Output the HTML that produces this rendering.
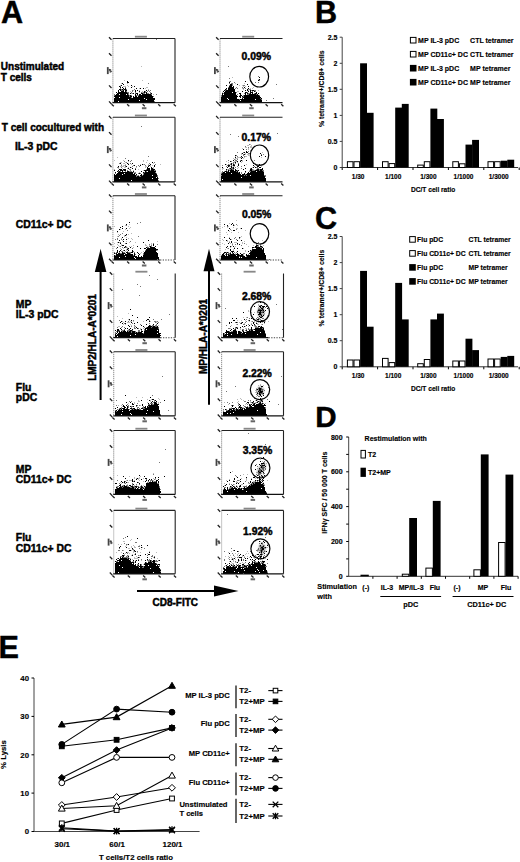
<!DOCTYPE html>
<html><head><meta charset="utf-8"><style>
html,body{margin:0;padding:0;background:#fff;}
body{width:520px;height:862px;overflow:hidden;}
svg{display:block;}
text{font-family:"Liberation Sans",sans-serif;font-weight:bold;fill:#000;stroke:#000;}
</style></head><body>
<svg width="520" height="862" viewBox="0 0 520 862">
<rect width="520" height="862" fill="#fff"/>
<text x="1.0" y="22.6" font-size="30.6" text-anchor="start" stroke-width="0.45" >A</text>
<text x="0.8" y="69.6" font-size="10" text-anchor="start" stroke-width="0.45" >Unstimulated</text>
<text x="0.8" y="81.0" font-size="10" text-anchor="start" stroke-width="0.45" >T cells</text>
<text x="1.8" y="130.5" font-size="10" text-anchor="start" stroke-width="0.45" >T cell cocultured with</text>
<text x="14.9" y="150.0" font-size="10.4" text-anchor="start" stroke-width="0.45" >IL-3 pDC</text>
<text x="15.8" y="227.8" font-size="10.4" text-anchor="start" stroke-width="0.45" >CD11c+ DC</text>
<text x="15.8" y="308.0" font-size="10.4" text-anchor="start" stroke-width="0.45" >MP</text>
<text x="15.8" y="317.8" font-size="10.4" text-anchor="start" stroke-width="0.45" >IL-3 pDC</text>
<text x="15.8" y="390.7" font-size="10.4" text-anchor="start" stroke-width="0.45" >Flu</text>
<text x="15.8" y="400.6" font-size="10.4" text-anchor="start" stroke-width="0.45" >pDC</text>
<text x="15.8" y="472.8" font-size="10.4" text-anchor="start" stroke-width="0.45" >MP</text>
<text x="15.8" y="482.6" font-size="10.4" text-anchor="start" stroke-width="0.45" >CD11c+ DC</text>
<text x="15.8" y="541.0" font-size="10.4" text-anchor="start" stroke-width="0.45" >Flu</text>
<text x="15.8" y="551.6" font-size="10.4" text-anchor="start" stroke-width="0.45" >CD11c+ DC</text>
<defs><filter id="bl" x="-5%" y="-5%" width="110%" height="110%"><feGaussianBlur stdDeviation="0.35"/></filter></defs>
<path fill="#bbb" filter="url(#bl)" d="M141 66h1v1h-1zM124 80h1v1h-1zM142 80h1v1h-1zM121 83h1v1h-1zM127 83h1v1h-1zM120 85h1v1h-1zM127 85h1v1h-1zM123 86h3v1h-3zM128 86h1v1h-1zM132 86h1v1h-1zM146 87h2v1h-2zM139 88h1v1h-1zM145 88h1v1h-1zM148 89h1v1h-1zM133 90h1v1h-1zM139 90h1v1h-1zM130 91h1v1h-1zM142 91h1v1h-1zM139 92h1v1h-1zM142 92h1v1h-1zM131 93h1v1h-1zM153 94h1v1h-1z"/>
<path fill="#777" filter="url(#bl)" d="M156 39h1v1h-1zM148 83h1v1h-1zM120 86h1v1h-1zM125 87h1v1h-1zM120 88h1v1h-1zM121 89h1v1h-1zM123 89h1v1h-1zM126 89h1v1h-1zM134 89h1v1h-1zM121 90h2v1h-2zM132 90h1v1h-1zM148 90h1v1h-1zM150 90h1v1h-1zM126 91h1v1h-1zM132 91h1v1h-1zM145 91h1v1h-1zM147 91h1v1h-1zM149 91h1v1h-1zM127 92h2v1h-2zM131 92h1v1h-1zM135 92h1v1h-1zM141 92h1v1h-1zM143 92h1v1h-1zM145 92h1v1h-1zM150 92h1v1h-1zM128 93h1v1h-1zM132 93h1v1h-1zM135 93h1v1h-1zM143 93h2v1h-2zM147 93h2v1h-2zM150 93h1v1h-1zM114 94h1v1h-1zM128 94h1v1h-1zM151 94h1v1h-1zM156 94h1v1h-1zM114 95h1v1h-1zM129 95h1v1h-1zM131 95h1v1h-1zM136 95h3v1h-3zM129 96h1v1h-1zM153 96h1v1h-1zM131 97h1v1h-1zM154 101h1v1h-1zM154 102h1v1h-1z"/>
<path fill="#000" filter="url(#bl)" d="M127 81h1v1h-1zM127 82h2v1h-2zM122 83h1v1h-1zM123 84h1v1h-1zM121 85h1v1h-1zM131 85h1v1h-1zM119 86h1v1h-1zM134 86h1v1h-1zM120 87h1v1h-1zM122 87h1v1h-1zM131 87h1v1h-1zM123 88h1v1h-1zM125 88h1v1h-1zM136 88h1v1h-1zM140 88h1v1h-1zM143 88h1v1h-1zM119 89h2v1h-2zM122 89h1v1h-1zM124 89h2v1h-2zM118 90h1v1h-1zM120 90h1v1h-1zM123 90h1v1h-1zM125 90h2v1h-2zM135 90h1v1h-1zM137 90h1v1h-1zM146 90h1v1h-1zM118 91h1v1h-1zM121 91h3v1h-3zM125 91h1v1h-1zM135 91h1v1h-1zM139 91h1v1h-1zM144 91h1v1h-1zM116 92h1v1h-1zM118 92h9v1h-9zM144 92h1v1h-1zM146 92h1v1h-1zM117 93h11v1h-11zM130 93h1v1h-1zM133 93h1v1h-1zM136 93h2v1h-2zM141 93h2v1h-2zM146 93h1v1h-1zM151 93h1v1h-1zM116 94h3v1h-3zM120 94h6v1h-6zM127 94h1v1h-1zM135 94h1v1h-1zM137 94h1v1h-1zM139 94h2v1h-2zM142 94h9v1h-9zM115 95h14v1h-14zM130 95h1v1h-1zM135 95h1v1h-1zM139 95h13v1h-13zM114 96h15v1h-15zM130 96h2v1h-2zM133 96h1v1h-1zM135 96h2v1h-2zM138 96h15v1h-15zM115 97h4v1h-4zM120 97h11v1h-11zM133 97h20v1h-20zM114 98h30v1h-30zM145 98h10v1h-10zM114 99h14v1h-14zM129 99h17v1h-17zM147 99h8v1h-8zM114 100h25v1h-25zM140 100h14v1h-14zM114 101h4v1h-4zM119 101h35v1h-35zM114 102h26v1h-26zM141 102h13v1h-13z"/>
<line x1="112.9" y1="38.5" x2="112.9" y2="102.7" stroke="#999" stroke-width="1.1" stroke-dasharray="1.2 0.8"/>
<line x1="112.4" y1="102.7" x2="175.0" y2="102.7" stroke="#111" stroke-width="1.2" />
<line x1="112.9" y1="38.5" x2="175.0" y2="38.5" stroke="#222" stroke-width="1.1" />
<line x1="175.0" y1="38.5" x2="175.0" y2="102.7" stroke="#222" stroke-width="1.1" />
<rect x="134.9" y="35.8" width="12" height="1.8" fill="#888"/>
<path d="M109.0 37.2L111.5 39.8M109.0 53.2L111.5 55.8M109.0 69.3L111.5 71.9M109.0 85.4L111.5 88.0M109.0 101.4L111.5 104.0M111.6 104.3L113.8 106.3M127.1 104.3L129.3 106.3M142.6 104.3L144.8 106.3M158.2 104.3L160.4 106.3M173.7 104.3L175.9 106.3" stroke="#222" stroke-width="1.3" fill="none"/>
<rect x="106.9" y="67.1" width="1.8" height="7" fill="#444"/>
<rect x="109.6" y="69.1" width="1.5" height="3.5" fill="#555"/>
<rect x="141.9" y="107.2" width="4.5" height="2" fill="#666"/>
<path fill="#bbb" filter="url(#bl)" d="M232 77h1v1h-1zM258 79h1v1h-1zM229 81h1v1h-1zM235 83h1v1h-1zM244 83h1v1h-1zM239 85h1v1h-1zM242 85h1v1h-1zM243 86h1v1h-1zM245 86h1v1h-1zM253 87h1v1h-1zM257 87h1v1h-1zM242 88h1v1h-1zM250 88h1v1h-1zM252 88h1v1h-1zM243 89h1v1h-1zM248 89h1v1h-1zM248 90h1v1h-1zM258 90h1v1h-1zM237 91h2v1h-2zM222 92h1v1h-1zM239 95h1v1h-1z"/>
<path fill="#777" filter="url(#bl)" d="M228 66h1v1h-1zM258 76h1v1h-1zM229 78h1v1h-1zM259 80h1v1h-1zM230 81h1v1h-1zM234 82h1v1h-1zM255 82h1v1h-1zM258 82h1v1h-1zM229 83h1v1h-1zM231 83h2v1h-2zM232 84h1v1h-1zM276 84h1v1h-1zM229 85h1v1h-1zM232 85h1v1h-1zM243 85h2v1h-2zM228 87h1v1h-1zM236 87h1v1h-1zM242 87h1v1h-1zM235 88h1v1h-1zM237 88h1v1h-1zM243 88h1v1h-1zM245 88h1v1h-1zM226 89h1v1h-1zM249 89h2v1h-2zM225 90h1v1h-1zM251 90h1v1h-1zM254 90h2v1h-2zM252 91h1v1h-1zM255 91h1v1h-1zM236 92h1v1h-1zM247 92h1v1h-1zM223 93h1v1h-1zM244 93h1v1h-1zM248 93h2v1h-2zM254 93h1v1h-1zM237 94h1v1h-1zM247 94h2v1h-2zM256 94h1v1h-1zM221 95h1v1h-1zM243 95h1v1h-1zM259 95h1v1h-1zM221 96h1v1h-1zM243 96h1v1h-1zM242 97h1v1h-1zM260 98h1v1h-1zM273 98h1v1h-1zM239 99h1v1h-1zM261 99h1v1h-1zM266 100h1v1h-1z"/>
<path fill="#000" filter="url(#bl)" d="M259 77h1v1h-1zM259 79h1v1h-1zM258 80h1v1h-1zM245 81h1v1h-1zM229 82h1v1h-1zM230 84h2v1h-2zM237 84h1v1h-1zM247 84h1v1h-1zM226 85h1v1h-1zM230 85h2v1h-2zM229 86h3v1h-3zM233 86h1v1h-1zM248 86h1v1h-1zM229 87h5v1h-5zM244 87h1v1h-1zM226 88h1v1h-1zM228 88h6v1h-6zM248 88h1v1h-1zM225 89h1v1h-1zM228 89h7v1h-7zM247 89h1v1h-1zM224 90h1v1h-1zM226 90h9v1h-9zM245 90h1v1h-1zM247 90h1v1h-1zM250 90h1v1h-1zM252 90h2v1h-2zM223 91h1v1h-1zM225 91h10v1h-10zM242 91h1v1h-1zM248 91h1v1h-1zM250 91h1v1h-1zM254 91h1v1h-1zM224 92h8v1h-8zM233 92h3v1h-3zM245 92h2v1h-2zM250 92h3v1h-3zM256 92h1v1h-1zM222 93h1v1h-1zM224 93h12v1h-12zM239 93h2v1h-2zM245 93h1v1h-1zM247 93h1v1h-1zM250 93h1v1h-1zM252 93h1v1h-1zM255 93h2v1h-2zM258 93h1v1h-1zM222 94h1v1h-1zM224 94h12v1h-12zM240 94h1v1h-1zM245 94h1v1h-1zM249 94h7v1h-7zM257 94h1v1h-1zM222 95h15v1h-15zM240 95h2v1h-2zM244 95h15v1h-15zM222 96h16v1h-16zM239 96h2v1h-2zM242 96h1v1h-1zM244 96h16v1h-16zM221 97h16v1h-16zM240 97h1v1h-1zM243 97h18v1h-18zM221 98h6v1h-6zM228 98h9v1h-9zM242 98h1v1h-1zM244 98h16v1h-16zM261 98h1v1h-1zM221 99h7v1h-7zM229 99h10v1h-10zM240 99h15v1h-15zM256 99h5v1h-5zM221 100h19v1h-19zM241 100h21v1h-21zM221 101h41v1h-41zM221 102h41v1h-41z"/>
<line x1="220.0" y1="38.5" x2="220.0" y2="102.7" stroke="#999" stroke-width="1.1" stroke-dasharray="1.2 0.8"/>
<line x1="219.5" y1="102.7" x2="282.5" y2="102.7" stroke="#111" stroke-width="1.2" />
<line x1="220.0" y1="38.5" x2="282.5" y2="38.5" stroke="#222" stroke-width="1.1" />
<rect x="242.2" y="35.8" width="12" height="1.8" fill="#888"/>
<path d="M216.1 37.2L218.6 39.8M216.1 53.2L218.6 55.8M216.1 69.3L218.6 71.9M216.1 85.4L218.6 88.0M216.1 101.4L218.6 104.0M218.7 104.3L220.9 106.3M234.3 104.3L236.5 106.3M249.9 104.3L252.2 106.3M265.6 104.3L267.8 106.3M281.2 104.3L283.4 106.3" stroke="#222" stroke-width="1.3" fill="none"/>
<rect x="214.0" y="67.1" width="1.8" height="7" fill="#444"/>
<rect x="216.7" y="69.1" width="1.5" height="3.5" fill="#555"/>
<rect x="249.2" y="107.2" width="4.5" height="2" fill="#666"/>
<path fill="#bbb" filter="url(#bl)" d="M117 157h1v1h-1zM114 160h1v1h-1zM123 160h1v1h-1zM143 160h1v1h-1zM147 160h1v1h-1zM128 161h1v1h-1zM143 161h1v1h-1zM120 162h2v1h-2zM125 162h1v1h-1zM146 162h1v1h-1zM123 163h2v1h-2zM128 163h1v1h-1zM153 163h1v1h-1zM121 164h1v1h-1zM125 164h1v1h-1zM131 164h1v1h-1zM140 164h1v1h-1zM143 164h1v1h-1zM148 164h1v1h-1zM160 164h1v1h-1zM123 165h2v1h-2zM150 165h1v1h-1zM152 165h1v1h-1zM120 166h4v1h-4zM145 166h2v1h-2zM150 166h1v1h-1zM124 167h2v1h-2zM128 167h1v1h-1zM131 167h1v1h-1zM136 167h1v1h-1zM145 167h1v1h-1zM153 167h1v1h-1zM118 168h1v1h-1zM122 168h1v1h-1zM127 168h1v1h-1zM153 168h1v1h-1zM114 169h1v1h-1zM138 169h1v1h-1zM133 170h1v1h-1zM143 170h1v1h-1zM134 172h1v1h-1zM139 172h1v1h-1zM137 175h1v1h-1z"/>
<path fill="#777" filter="url(#bl)" d="M141 126h1v1h-1zM148 156h1v1h-1zM125 158h1v1h-1zM131 160h1v1h-1zM124 161h1v1h-1zM130 161h1v1h-1zM126 162h1v1h-1zM154 162h1v1h-1zM119 163h1v1h-1zM130 163h1v1h-1zM149 163h1v1h-1zM144 164h1v1h-1zM155 164h1v1h-1zM121 165h1v1h-1zM125 165h1v1h-1zM133 165h1v1h-1zM138 165h1v1h-1zM145 165h1v1h-1zM148 165h1v1h-1zM125 166h1v1h-1zM132 166h1v1h-1zM136 166h1v1h-1zM139 166h1v1h-1zM117 167h2v1h-2zM121 167h1v1h-1zM135 168h1v1h-1zM129 169h2v1h-2zM146 169h1v1h-1zM123 170h1v1h-1zM127 170h1v1h-1zM130 170h1v1h-1zM150 170h1v1h-1zM154 170h2v1h-2zM118 171h1v1h-1zM120 171h1v1h-1zM125 171h1v1h-1zM129 171h3v1h-3zM146 171h1v1h-1zM133 172h1v1h-1zM135 172h1v1h-1zM144 172h1v1h-1zM155 172h1v1h-1zM115 173h1v1h-1zM135 173h1v1h-1zM138 173h1v1h-1zM140 173h1v1h-1zM143 173h1v1h-1zM156 173h1v1h-1zM143 174h1v1h-1zM136 175h1v1h-1zM138 175h1v1h-1zM142 175h1v1h-1zM157 175h1v1h-1zM136 176h1v1h-1zM139 176h2v1h-2zM157 176h1v1h-1zM158 178h1v1h-1zM158 180h1v1h-1z"/>
<path fill="#000" filter="url(#bl)" d="M128 160h1v1h-1zM152 162h1v1h-1zM120 163h1v1h-1zM127 163h1v1h-1zM132 163h1v1h-1zM128 164h1v1h-1zM142 164h1v1h-1zM150 164h1v1h-1zM134 165h1v1h-1zM140 165h1v1h-1zM149 165h1v1h-1zM154 165h1v1h-1zM118 166h1v1h-1zM126 166h1v1h-1zM148 166h1v1h-1zM154 166h1v1h-1zM130 167h1v1h-1zM147 167h1v1h-1zM151 167h1v1h-1zM128 168h1v1h-1zM132 168h1v1h-1zM147 168h3v1h-3zM151 168h2v1h-2zM119 169h3v1h-3zM123 169h3v1h-3zM135 169h1v1h-1zM147 169h3v1h-3zM151 169h4v1h-4zM114 170h1v1h-1zM118 170h1v1h-1zM120 170h3v1h-3zM124 170h2v1h-2zM144 170h6v1h-6zM151 170h3v1h-3zM117 171h1v1h-1zM119 171h1v1h-1zM122 171h1v1h-1zM127 171h2v1h-2zM133 171h1v1h-1zM141 171h1v1h-1zM145 171h1v1h-1zM148 171h8v1h-8zM115 172h1v1h-1zM118 172h15v1h-15zM143 172h1v1h-1zM145 172h10v1h-10zM117 173h7v1h-7zM125 173h8v1h-8zM134 173h1v1h-1zM139 173h1v1h-1zM144 173h12v1h-12zM114 174h1v1h-1zM116 174h6v1h-6zM123 174h12v1h-12zM136 174h1v1h-1zM141 174h1v1h-1zM144 174h13v1h-13zM114 175h22v1h-22zM140 175h2v1h-2zM143 175h9v1h-9zM153 175h4v1h-4zM114 176h22v1h-22zM137 176h2v1h-2zM141 176h16v1h-16zM114 177h42v1h-42zM157 177h1v1h-1zM114 178h5v1h-5zM120 178h32v1h-32zM153 178h5v1h-5zM114 179h44v1h-44zM114 180h17v1h-17zM132 180h26v1h-26zM114 181h45v1h-45z"/>
<line x1="112.9" y1="117.3" x2="112.9" y2="181.9" stroke="#999" stroke-width="1.1" stroke-dasharray="1.2 0.8"/>
<line x1="112.4" y1="181.9" x2="175.0" y2="181.9" stroke="#111" stroke-width="1.2" />
<line x1="112.9" y1="117.3" x2="175.0" y2="117.3" stroke="#222" stroke-width="1.1" />
<line x1="175.0" y1="117.3" x2="175.0" y2="181.9" stroke="#222" stroke-width="1.1" />
<rect x="134.9" y="114.6" width="12" height="1.8" fill="#888"/>
<path d="M109.0 116.0L111.5 118.6M109.0 132.1L111.5 134.8M109.0 148.3L111.5 150.9M109.0 164.4L111.5 167.1M109.0 180.6L111.5 183.2M111.6 183.5L113.8 185.5M127.1 183.5L129.3 185.5M142.6 183.5L144.8 185.5M158.2 183.5L160.4 185.5M173.7 183.5L175.9 185.5" stroke="#222" stroke-width="1.3" fill="none"/>
<rect x="106.9" y="146.1" width="1.8" height="7" fill="#444"/>
<rect x="109.6" y="148.1" width="1.5" height="3.5" fill="#555"/>
<rect x="141.9" y="186.4" width="4.5" height="2" fill="#666"/>
<path fill="#bbb" filter="url(#bl)" d="M250 144h1v1h-1zM247 145h2v1h-2zM251 145h1v1h-1zM250 146h2v1h-2zM245 147h2v1h-2zM250 147h2v1h-2zM242 148h1v1h-1zM248 148h1v1h-1zM248 149h1v1h-1zM250 150h1v1h-1zM262 152h1v1h-1zM241 153h1v1h-1zM245 153h1v1h-1zM241 154h1v1h-1zM245 154h1v1h-1zM247 154h2v1h-2zM248 155h1v1h-1zM235 156h1v1h-1zM245 156h2v1h-2zM237 157h3v1h-3zM241 157h1v1h-1zM244 157h1v1h-1zM261 157h1v1h-1zM233 158h1v1h-1zM235 158h3v1h-3zM243 158h1v1h-1zM235 159h1v1h-1zM242 160h1v1h-1zM226 161h1v1h-1zM234 161h3v1h-3zM242 161h1v1h-1zM228 162h1v1h-1zM234 162h1v1h-1zM237 162h1v1h-1zM241 162h1v1h-1zM230 163h1v1h-1zM232 163h1v1h-1zM226 164h1v1h-1zM229 164h1v1h-1zM246 164h1v1h-1zM232 165h1v1h-1zM256 165h1v1h-1zM230 166h1v1h-1zM233 166h2v1h-2zM261 166h1v1h-1zM238 167h1v1h-1zM252 167h1v1h-1zM222 168h2v1h-2zM234 168h1v1h-1zM237 168h1v1h-1zM222 169h1v1h-1zM227 169h1v1h-1zM229 169h1v1h-1zM253 169h1v1h-1zM249 170h1v1h-1zM221 172h1v1h-1z"/>
<path fill="#777" filter="url(#bl)" d="M277 133h1v1h-1zM230 134h1v1h-1zM238 136h1v1h-1zM249 144h1v1h-1zM245 146h1v1h-1zM248 147h1v1h-1zM246 149h1v1h-1zM248 151h1v1h-1zM237 152h1v1h-1zM243 152h1v1h-1zM248 153h2v1h-2zM243 154h1v1h-1zM261 154h1v1h-1zM263 154h1v1h-1zM236 155h1v1h-1zM243 155h1v1h-1zM237 156h1v1h-1zM244 156h1v1h-1zM240 157h1v1h-1zM234 159h1v1h-1zM237 159h1v1h-1zM228 160h1v1h-1zM235 160h2v1h-2zM240 160h1v1h-1zM251 160h1v1h-1zM254 160h1v1h-1zM231 161h1v1h-1zM233 162h1v1h-1zM233 163h1v1h-1zM235 163h1v1h-1zM238 163h1v1h-1zM228 164h1v1h-1zM230 164h1v1h-1zM234 164h1v1h-1zM222 165h1v1h-1zM227 165h1v1h-1zM231 165h1v1h-1zM226 166h1v1h-1zM229 166h1v1h-1zM237 166h1v1h-1zM241 166h1v1h-1zM254 166h1v1h-1zM232 167h1v1h-1zM235 167h1v1h-1zM256 167h2v1h-2zM229 168h1v1h-1zM231 168h2v1h-2zM241 168h1v1h-1zM250 168h1v1h-1zM257 168h2v1h-2zM228 169h1v1h-1zM230 169h1v1h-1zM232 169h2v1h-2zM252 169h1v1h-1zM256 169h1v1h-1zM259 169h1v1h-1zM226 170h1v1h-1zM229 170h1v1h-1zM237 170h1v1h-1zM252 170h3v1h-3zM259 170h1v1h-1zM262 170h2v1h-2zM222 171h1v1h-1zM224 171h1v1h-1zM227 171h1v1h-1zM236 171h1v1h-1zM249 171h2v1h-2zM263 171h1v1h-1zM222 172h1v1h-1zM238 172h1v1h-1zM241 172h1v1h-1zM245 172h1v1h-1zM221 173h1v1h-1zM241 173h1v1h-1zM245 174h1v1h-1zM221 175h1v1h-1zM244 175h1v1h-1zM246 175h1v1h-1zM264 175h2v1h-2zM265 176h1v1h-1z"/>
<path fill="#000" filter="url(#bl)" d="M243 149h1v1h-1zM246 151h1v1h-1zM244 152h1v1h-1zM246 152h2v1h-2zM242 153h1v1h-1zM260 153h1v1h-1zM244 154h1v1h-1zM235 155h1v1h-1zM261 155h1v1h-1zM241 156h1v1h-1zM259 156h1v1h-1zM265 156h1v1h-1zM235 157h1v1h-1zM242 157h1v1h-1zM241 158h1v1h-1zM233 160h1v1h-1zM241 160h1v1h-1zM246 160h1v1h-1zM230 161h1v1h-1zM237 161h1v1h-1zM240 161h1v1h-1zM235 162h1v1h-1zM231 163h1v1h-1zM253 163h1v1h-1zM225 164h1v1h-1zM231 164h1v1h-1zM233 164h1v1h-1zM238 164h1v1h-1zM259 164h1v1h-1zM228 165h2v1h-2zM233 165h2v1h-2zM238 165h1v1h-1zM244 165h1v1h-1zM253 165h1v1h-1zM228 166h1v1h-1zM231 166h1v1h-1zM257 166h2v1h-2zM222 167h1v1h-1zM227 167h1v1h-1zM231 167h1v1h-1zM233 167h1v1h-1zM253 167h1v1h-1zM255 167h1v1h-1zM259 167h2v1h-2zM230 168h1v1h-1zM233 168h1v1h-1zM245 168h1v1h-1zM251 168h1v1h-1zM262 168h1v1h-1zM226 169h1v1h-1zM231 169h1v1h-1zM235 169h1v1h-1zM243 169h1v1h-1zM250 169h2v1h-2zM257 169h2v1h-2zM260 169h3v1h-3zM228 170h1v1h-1zM230 170h4v1h-4zM235 170h2v1h-2zM238 170h1v1h-1zM250 170h2v1h-2zM255 170h4v1h-4zM260 170h2v1h-2zM225 171h2v1h-2zM228 171h1v1h-1zM230 171h6v1h-6zM237 171h1v1h-1zM245 171h1v1h-1zM251 171h5v1h-5zM257 171h6v1h-6zM223 172h2v1h-2zM226 172h12v1h-12zM239 172h1v1h-1zM248 172h1v1h-1zM250 172h14v1h-14zM222 173h9v1h-9zM232 173h8v1h-8zM244 173h1v1h-1zM247 173h17v1h-17zM221 174h20v1h-20zM242 174h3v1h-3zM246 174h18v1h-18zM222 175h22v1h-22zM245 175h1v1h-1zM247 175h3v1h-3zM251 175h13v1h-13zM221 176h44v1h-44zM221 177h20v1h-20zM242 177h23v1h-23zM221 178h45v1h-45zM221 179h1v1h-1zM223 179h43v1h-43zM221 180h45v1h-45zM221 181h45v1h-45z"/>
<line x1="220.0" y1="117.3" x2="220.0" y2="181.9" stroke="#999" stroke-width="1.1" stroke-dasharray="1.2 0.8"/>
<line x1="219.5" y1="181.9" x2="282.5" y2="181.9" stroke="#111" stroke-width="1.2" />
<line x1="220.0" y1="117.3" x2="282.5" y2="117.3" stroke="#222" stroke-width="1.1" />
<rect x="242.2" y="114.6" width="12" height="1.8" fill="#888"/>
<path d="M216.1 116.0L218.6 118.6M216.1 132.1L218.6 134.8M216.1 148.3L218.6 150.9M216.1 164.4L218.6 167.1M216.1 180.6L218.6 183.2M218.7 183.5L220.9 185.5M234.3 183.5L236.5 185.5M249.9 183.5L252.2 185.5M265.6 183.5L267.8 185.5M281.2 183.5L283.4 185.5" stroke="#222" stroke-width="1.3" fill="none"/>
<rect x="214.0" y="146.1" width="1.8" height="7" fill="#444"/>
<rect x="216.7" y="148.1" width="1.5" height="3.5" fill="#555"/>
<rect x="249.2" y="186.4" width="4.5" height="2" fill="#666"/>
<path fill="#bbb" filter="url(#bl)" d="M129 224h1v1h-1zM125 225h1v1h-1zM114 226h1v1h-1zM128 226h1v1h-1zM130 227h1v1h-1zM129 228h1v1h-1zM120 229h1v1h-1zM125 229h1v1h-1zM123 231h1v1h-1zM117 232h1v1h-1zM131 233h1v1h-1zM118 234h1v1h-1zM128 234h1v1h-1zM124 235h1v1h-1zM126 235h1v1h-1zM117 236h1v1h-1zM124 236h1v1h-1zM126 237h1v1h-1zM121 238h1v1h-1zM128 238h1v1h-1zM131 238h1v1h-1zM132 239h1v1h-1zM122 240h1v1h-1zM126 241h1v1h-1zM157 241h1v1h-1zM117 242h1v1h-1zM119 242h1v1h-1zM129 242h1v1h-1zM135 242h1v1h-1zM114 243h1v1h-1zM151 243h1v1h-1zM117 244h1v1h-1zM121 244h1v1h-1zM145 244h1v1h-1zM151 244h1v1h-1zM118 245h1v1h-1zM121 245h1v1h-1zM133 245h1v1h-1zM145 245h2v1h-2zM149 245h1v1h-1zM114 246h1v1h-1zM119 246h1v1h-1zM126 246h1v1h-1zM129 246h1v1h-1zM131 246h1v1h-1zM147 246h1v1h-1zM127 247h1v1h-1zM133 247h1v1h-1zM120 248h1v1h-1zM123 248h1v1h-1zM126 249h1v1h-1zM128 249h1v1h-1zM126 250h1v1h-1zM157 250h1v1h-1zM125 251h1v1h-1zM143 251h1v1h-1zM141 252h1v1h-1zM140 253h1v1h-1z"/>
<path fill="#777" filter="url(#bl)" d="M140 222h1v1h-1zM137 223h1v1h-1zM126 225h1v1h-1zM127 230h1v1h-1zM122 233h1v1h-1zM120 234h1v1h-1zM119 235h1v1h-1zM118 236h1v1h-1zM138 236h1v1h-1zM117 238h1v1h-1zM115 239h1v1h-1zM117 239h1v1h-1zM121 239h1v1h-1zM130 241h1v1h-1zM120 242h1v1h-1zM125 243h1v1h-1zM153 243h1v1h-1zM149 244h1v1h-1zM157 244h1v1h-1zM151 245h1v1h-1zM120 246h1v1h-1zM149 246h1v1h-1zM151 246h1v1h-1zM122 247h1v1h-1zM125 247h2v1h-2zM147 247h2v1h-2zM116 248h1v1h-1zM127 248h1v1h-1zM132 248h1v1h-1zM121 249h1v1h-1zM123 250h1v1h-1zM145 250h1v1h-1zM156 250h1v1h-1zM121 251h2v1h-2zM127 251h1v1h-1zM133 251h1v1h-1zM114 252h1v1h-1zM116 252h1v1h-1zM119 252h1v1h-1zM123 252h2v1h-2zM128 252h3v1h-3zM134 252h1v1h-1zM115 253h1v1h-1zM120 253h2v1h-2zM125 253h1v1h-1zM130 253h1v1h-1zM143 253h1v1h-1zM135 254h1v1h-1zM143 254h1v1h-1zM115 255h1v1h-1zM133 255h1v1h-1z"/>
<path fill="#000" filter="url(#bl)" d="M129 222h1v1h-1zM126 224h1v1h-1zM122 226h1v1h-1zM120 227h1v1h-1zM122 228h1v1h-1zM126 228h1v1h-1zM119 229h1v1h-1zM117 231h1v1h-1zM126 234h1v1h-1zM125 235h1v1h-1zM122 237h1v1h-1zM123 239h1v1h-1zM126 239h1v1h-1zM119 240h1v1h-1zM148 240h1v1h-1zM123 241h1v1h-1zM118 242h1v1h-1zM143 242h1v1h-1zM120 243h1v1h-1zM126 243h1v1h-1zM153 244h1v1h-1zM122 245h2v1h-2zM153 245h1v1h-1zM125 246h1v1h-1zM137 246h1v1h-1zM150 246h1v1h-1zM155 246h1v1h-1zM117 247h1v1h-1zM124 247h1v1h-1zM130 247h1v1h-1zM146 247h1v1h-1zM150 247h5v1h-5zM128 248h1v1h-1zM140 248h1v1h-1zM144 248h2v1h-2zM147 248h9v1h-9zM127 249h1v1h-1zM146 249h12v1h-12zM117 250h1v1h-1zM120 250h1v1h-1zM124 250h1v1h-1zM128 250h1v1h-1zM132 250h1v1h-1zM146 250h10v1h-10zM117 251h1v1h-1zM119 251h1v1h-1zM132 251h1v1h-1zM145 251h11v1h-11zM117 252h1v1h-1zM122 252h1v1h-1zM126 252h2v1h-2zM131 252h2v1h-2zM137 252h1v1h-1zM144 252h13v1h-13zM114 253h1v1h-1zM116 253h1v1h-1zM118 253h2v1h-2zM122 253h3v1h-3zM127 253h3v1h-3zM134 253h1v1h-1zM138 253h1v1h-1zM144 253h14v1h-14zM116 254h8v1h-8zM125 254h8v1h-8zM134 254h1v1h-1zM139 254h1v1h-1zM144 254h14v1h-14zM114 255h1v1h-1zM116 255h17v1h-17zM134 255h1v1h-1zM138 255h1v1h-1zM143 255h15v1h-15zM114 256h11v1h-11zM126 256h11v1h-11zM138 256h1v1h-1zM141 256h1v1h-1zM143 256h15v1h-15zM114 257h5v1h-5zM120 257h14v1h-14zM135 257h24v1h-24zM114 258h21v1h-21zM136 258h23v1h-23zM114 259h43v1h-43zM158 259h1v1h-1z"/>
<line x1="112.9" y1="195.8" x2="112.9" y2="260.0" stroke="#999" stroke-width="1.1" stroke-dasharray="1.2 0.8"/>
<line x1="112.4" y1="260.0" x2="160.1" y2="260.0" stroke="#111" stroke-width="1.2" />
<line x1="160.1" y1="260.0" x2="175.0" y2="260.0" stroke="#444" stroke-width="1.1" stroke-dasharray="1.3 1.3"/>
<line x1="112.9" y1="195.8" x2="175.0" y2="195.8" stroke="#222" stroke-width="1.1" />
<line x1="175.0" y1="195.8" x2="175.0" y2="260.0" stroke="#222" stroke-width="1.1" />
<rect x="134.9" y="193.1" width="12" height="1.8" fill="#888"/>
<path d="M109.0 194.5L111.5 197.1M109.0 210.6L111.5 213.2M109.0 226.6L111.5 229.2M109.0 242.6L111.5 245.2M109.0 258.7L111.5 261.3M111.6 261.6L113.8 263.6M127.1 261.6L129.3 263.6M142.6 261.6L144.8 263.6M158.2 261.6L160.4 263.6M173.7 261.6L175.9 263.6" stroke="#222" stroke-width="1.3" fill="none"/>
<rect x="106.9" y="224.4" width="1.8" height="7" fill="#444"/>
<rect x="109.6" y="226.4" width="1.5" height="3.5" fill="#555"/>
<rect x="141.9" y="264.5" width="4.5" height="2" fill="#666"/>
<path fill="#bbb" filter="url(#bl)" d="M236 220h1v1h-1zM229 223h1v1h-1zM234 225h1v1h-1zM237 225h1v1h-1zM224 226h1v1h-1zM228 226h1v1h-1zM222 227h1v1h-1zM227 227h1v1h-1zM233 227h1v1h-1zM236 228h2v1h-2zM240 228h1v1h-1zM231 230h1v1h-1zM245 230h1v1h-1zM229 231h1v1h-1zM226 232h1v1h-1zM231 232h1v1h-1zM238 232h1v1h-1zM227 234h1v1h-1zM241 236h1v1h-1zM229 237h1v1h-1zM240 237h1v1h-1zM222 239h1v1h-1zM231 239h1v1h-1zM223 240h1v1h-1zM227 240h1v1h-1zM262 240h1v1h-1zM227 241h1v1h-1zM229 241h1v1h-1zM244 241h1v1h-1zM234 242h3v1h-3zM242 242h1v1h-1zM253 242h1v1h-1zM222 243h1v1h-1zM230 243h1v1h-1zM232 243h1v1h-1zM242 243h1v1h-1zM261 243h1v1h-1zM224 244h1v1h-1zM246 244h1v1h-1zM232 245h1v1h-1zM253 245h1v1h-1zM263 245h1v1h-1zM231 246h1v1h-1zM235 246h1v1h-1zM248 246h1v1h-1zM262 246h1v1h-1zM230 247h1v1h-1zM234 247h1v1h-1zM227 248h1v1h-1zM243 248h1v1h-1zM225 249h1v1h-1zM233 249h1v1h-1zM233 250h1v1h-1zM245 250h1v1h-1zM245 251h1v1h-1zM235 253h1v1h-1zM239 254h1v1h-1zM243 254h1v1h-1z"/>
<path fill="#777" filter="url(#bl)" d="M233 224h1v1h-1zM236 224h1v1h-1zM227 226h1v1h-1zM230 229h1v1h-1zM236 229h1v1h-1zM235 237h1v1h-1zM234 238h1v1h-1zM239 238h1v1h-1zM236 239h1v1h-1zM229 242h1v1h-1zM258 242h1v1h-1zM244 243h1v1h-1zM232 244h1v1h-1zM235 244h1v1h-1zM237 244h1v1h-1zM256 244h1v1h-1zM260 244h1v1h-1zM241 245h1v1h-1zM258 245h1v1h-1zM260 245h1v1h-1zM257 246h2v1h-2zM254 247h1v1h-1zM260 247h2v1h-2zM228 248h1v1h-1zM252 248h1v1h-1zM262 249h1v1h-1zM251 250h1v1h-1zM250 251h1v1h-1zM226 252h1v1h-1zM228 252h1v1h-1zM230 252h1v1h-1zM234 252h1v1h-1zM236 252h1v1h-1zM224 253h1v1h-1zM228 253h2v1h-2zM232 253h1v1h-1zM243 253h2v1h-2zM225 254h1v1h-1zM227 254h1v1h-1zM229 254h1v1h-1zM235 254h1v1h-1zM248 254h1v1h-1zM221 255h1v1h-1zM243 255h1v1h-1zM239 256h1v1h-1zM246 256h1v1h-1zM269 259h1v1h-1z"/>
<path fill="#000" filter="url(#bl)" d="M232 223h1v1h-1zM224 224h1v1h-1zM231 224h1v1h-1zM227 225h1v1h-1zM233 225h1v1h-1zM229 228h1v1h-1zM241 228h1v1h-1zM228 230h1v1h-1zM233 230h2v1h-2zM224 237h1v1h-1zM239 237h1v1h-1zM229 238h1v1h-1zM230 239h1v1h-1zM226 240h1v1h-1zM237 240h1v1h-1zM241 240h1v1h-1zM231 241h1v1h-1zM231 242h1v1h-1zM254 242h1v1h-1zM228 243h1v1h-1zM237 243h1v1h-1zM256 243h1v1h-1zM239 244h1v1h-1zM256 245h2v1h-2zM227 246h1v1h-1zM230 246h1v1h-1zM233 246h1v1h-1zM255 246h2v1h-2zM260 246h2v1h-2zM226 247h1v1h-1zM252 247h2v1h-2zM255 247h5v1h-5zM262 247h1v1h-1zM234 248h1v1h-1zM237 248h1v1h-1zM242 248h1v1h-1zM256 248h6v1h-6zM263 248h1v1h-1zM230 249h1v1h-1zM252 249h10v1h-10zM263 249h1v1h-1zM230 250h1v1h-1zM250 250h1v1h-1zM252 250h12v1h-12zM231 251h3v1h-3zM237 251h1v1h-1zM248 251h1v1h-1zM251 251h13v1h-13zM224 252h2v1h-2zM227 252h1v1h-1zM232 252h1v1h-1zM250 252h14v1h-14zM223 253h1v1h-1zM226 253h1v1h-1zM230 253h1v1h-1zM233 253h1v1h-1zM237 253h1v1h-1zM240 253h1v1h-1zM249 253h16v1h-16zM222 254h2v1h-2zM226 254h1v1h-1zM228 254h1v1h-1zM230 254h5v1h-5zM236 254h3v1h-3zM241 254h2v1h-2zM246 254h1v1h-1zM250 254h15v1h-15zM222 255h3v1h-3zM226 255h1v1h-1zM228 255h8v1h-8zM237 255h6v1h-6zM246 255h20v1h-20zM221 256h18v1h-18zM240 256h5v1h-5zM247 256h19v1h-19zM221 257h18v1h-18zM240 257h1v1h-1zM242 257h14v1h-14zM257 257h9v1h-9zM221 258h45v1h-45zM221 259h45v1h-45z"/>
<line x1="220.0" y1="195.8" x2="220.0" y2="260.0" stroke="#999" stroke-width="1.1" stroke-dasharray="1.2 0.8"/>
<line x1="219.5" y1="260.0" x2="267.5" y2="260.0" stroke="#111" stroke-width="1.2" />
<line x1="267.5" y1="260.0" x2="282.5" y2="260.0" stroke="#444" stroke-width="1.1" stroke-dasharray="1.3 1.3"/>
<line x1="220.0" y1="195.8" x2="282.5" y2="195.8" stroke="#222" stroke-width="1.1" />
<rect x="242.2" y="193.1" width="12" height="1.8" fill="#888"/>
<path d="M216.1 194.5L218.6 197.1M216.1 210.6L218.6 213.2M216.1 226.6L218.6 229.2M216.1 242.6L218.6 245.2M216.1 258.7L218.6 261.3M218.7 261.6L220.9 263.6M234.3 261.6L236.5 263.6M249.9 261.6L252.2 263.6M265.6 261.6L267.8 263.6M281.2 261.6L283.4 263.6" stroke="#222" stroke-width="1.3" fill="none"/>
<rect x="214.0" y="224.4" width="1.8" height="7" fill="#444"/>
<rect x="216.7" y="226.4" width="1.5" height="3.5" fill="#555"/>
<rect x="249.2" y="264.5" width="4.5" height="2" fill="#666"/>
<path fill="#bbb" filter="url(#bl)" d="M128 313h1v1h-1zM117 316h1v1h-1zM122 318h1v1h-1zM128 319h1v1h-1zM129 320h1v1h-1zM122 321h1v1h-1zM130 321h2v1h-2zM133 321h1v1h-1zM143 321h1v1h-1zM150 321h1v1h-1zM156 321h1v1h-1zM123 322h1v1h-1zM127 322h3v1h-3zM156 322h1v1h-1zM123 324h1v1h-1zM125 324h1v1h-1zM130 324h1v1h-1zM131 325h1v1h-1zM158 325h1v1h-1zM118 326h2v1h-2zM134 326h1v1h-1zM140 328h1v1h-1zM143 328h1v1h-1zM128 329h1v1h-1zM140 329h1v1h-1zM121 330h1v1h-1z"/>
<path fill="#777" filter="url(#bl)" d="M149 275h1v1h-1zM157 279h1v1h-1zM137 284h1v1h-1zM140 286h1v1h-1zM122 289h1v1h-1zM139 295h1v1h-1zM169 314h1v1h-1zM153 319h1v1h-1zM161 319h1v1h-1zM119 320h1v1h-1zM133 320h1v1h-1zM149 320h1v1h-1zM128 321h1v1h-1zM154 321h2v1h-2zM157 321h1v1h-1zM155 322h1v1h-1zM158 322h1v1h-1zM124 323h1v1h-1zM132 323h1v1h-1zM149 323h1v1h-1zM140 324h1v1h-1zM156 324h1v1h-1zM134 325h1v1h-1zM150 325h1v1h-1zM152 325h2v1h-2zM155 325h2v1h-2zM122 326h1v1h-1zM131 326h1v1h-1zM135 326h1v1h-1zM152 326h1v1h-1zM155 326h2v1h-2zM117 327h1v1h-1zM121 327h1v1h-1zM124 327h1v1h-1zM134 327h1v1h-1zM144 327h1v1h-1zM146 327h1v1h-1zM151 327h1v1h-1zM158 327h1v1h-1zM134 328h2v1h-2zM138 328h1v1h-1zM158 328h1v1h-1zM124 329h1v1h-1zM144 329h1v1h-1zM119 330h1v1h-1zM122 330h2v1h-2zM127 330h3v1h-3zM132 330h1v1h-1zM138 330h2v1h-2zM141 330h1v1h-1zM144 330h1v1h-1zM116 331h1v1h-1zM118 331h1v1h-1zM122 331h1v1h-1zM128 331h1v1h-1zM131 331h1v1h-1zM135 331h1v1h-1zM138 331h2v1h-2zM115 332h1v1h-1zM131 332h1v1h-1zM135 332h1v1h-1zM137 332h1v1h-1zM115 333h1v1h-1zM143 333h1v1h-1zM160 337h1v1h-1z"/>
<path fill="#000" filter="url(#bl)" d="M130 309h1v1h-1zM132 315h1v1h-1zM137 317h1v1h-1zM149 317h1v1h-1zM129 319h1v1h-1zM147 319h2v1h-2zM131 320h1v1h-1zM146 320h1v1h-1zM121 321h1v1h-1zM125 321h1v1h-1zM149 321h1v1h-1zM120 322h1v1h-1zM131 322h1v1h-1zM137 322h1v1h-1zM122 323h1v1h-1zM125 323h1v1h-1zM134 323h1v1h-1zM157 323h1v1h-1zM146 324h1v1h-1zM153 324h1v1h-1zM128 325h1v1h-1zM141 325h1v1h-1zM149 325h1v1h-1zM129 326h1v1h-1zM143 326h1v1h-1zM148 326h4v1h-4zM153 326h2v1h-2zM157 326h1v1h-1zM136 327h1v1h-1zM147 327h4v1h-4zM152 327h6v1h-6zM120 328h1v1h-1zM125 328h1v1h-1zM127 328h1v1h-1zM130 328h1v1h-1zM137 328h1v1h-1zM145 328h13v1h-13zM117 329h2v1h-2zM121 329h1v1h-1zM129 329h1v1h-1zM132 329h1v1h-1zM141 329h1v1h-1zM145 329h1v1h-1zM147 329h12v1h-12zM115 330h1v1h-1zM117 330h2v1h-2zM124 330h1v1h-1zM130 330h2v1h-2zM145 330h12v1h-12zM158 330h1v1h-1zM117 331h1v1h-1zM119 331h1v1h-1zM121 331h1v1h-1zM123 331h3v1h-3zM127 331h1v1h-1zM129 331h2v1h-2zM132 331h3v1h-3zM141 331h2v1h-2zM144 331h15v1h-15zM117 332h1v1h-1zM119 332h12v1h-12zM132 332h3v1h-3zM136 332h1v1h-1zM138 332h4v1h-4zM144 332h15v1h-15zM116 333h1v1h-1zM118 333h25v1h-25zM144 333h13v1h-13zM158 333h3v1h-3zM115 334h1v1h-1zM117 334h18v1h-18zM136 334h24v1h-24zM115 335h15v1h-15zM131 335h30v1h-30zM115 336h2v1h-2zM118 336h42v1h-42zM115 337h45v1h-45z"/>
<line x1="113.7" y1="273.5" x2="113.7" y2="337.7" stroke="#999" stroke-width="1.1" stroke-dasharray="1.2 0.8"/>
<line x1="113.2" y1="337.7" x2="160.4" y2="337.7" stroke="#111" stroke-width="1.2" />
<line x1="160.4" y1="337.7" x2="175.2" y2="337.7" stroke="#444" stroke-width="1.1" stroke-dasharray="1.3 1.3"/>
<line x1="175.2" y1="273.5" x2="175.2" y2="337.7" stroke="#222" stroke-width="1.1" />
<rect x="135.4" y="270.8" width="12" height="1.8" fill="#888"/>
<path d="M109.8 272.2L112.3 274.8M109.8 288.2L112.3 290.9M109.8 304.3L112.3 306.9M109.8 320.3L112.3 322.9M109.8 336.4L112.3 339.0M112.4 339.3L114.6 341.3M127.8 339.3L130.0 341.3M143.1 339.3L145.3 341.3M158.5 339.3L160.7 341.3M173.9 339.3L176.1 341.3" stroke="#222" stroke-width="1.3" fill="none"/>
<rect x="107.7" y="302.1" width="1.8" height="7" fill="#444"/>
<rect x="110.4" y="304.1" width="1.5" height="3.5" fill="#555"/>
<rect x="142.4" y="342.2" width="4.5" height="2" fill="#666"/>
<path fill="#bbb" filter="url(#bl)" d="M258 304h1v1h-1zM258 305h2v1h-2zM258 307h1v1h-1zM261 307h1v1h-1zM258 308h2v1h-2zM263 308h1v1h-1zM261 309h1v1h-1zM248 310h1v1h-1zM257 310h1v1h-1zM248 311h1v1h-1zM258 311h2v1h-2zM262 311h1v1h-1zM251 312h1v1h-1zM254 312h1v1h-1zM264 313h1v1h-1zM263 314h2v1h-2zM258 315h3v1h-3zM267 315h1v1h-1zM260 316h1v1h-1zM243 317h1v1h-1zM246 317h1v1h-1zM258 317h1v1h-1zM256 319h1v1h-1zM259 319h1v1h-1zM237 320h1v1h-1zM241 320h1v1h-1zM245 320h1v1h-1zM258 320h1v1h-1zM260 320h1v1h-1zM249 321h1v1h-1zM251 321h1v1h-1zM254 321h1v1h-1zM257 321h1v1h-1zM259 321h1v1h-1zM265 321h1v1h-1zM268 321h1v1h-1zM239 322h1v1h-1zM254 322h1v1h-1zM256 322h1v1h-1zM258 322h1v1h-1zM262 322h1v1h-1zM244 323h1v1h-1zM251 323h1v1h-1zM257 323h1v1h-1zM264 323h1v1h-1zM236 324h1v1h-1zM257 324h2v1h-2zM261 324h1v1h-1zM231 325h1v1h-1zM245 326h1v1h-1zM248 326h1v1h-1zM254 326h1v1h-1zM260 326h1v1h-1zM243 327h1v1h-1zM230 328h1v1h-1zM236 328h1v1h-1zM240 328h1v1h-1zM245 328h2v1h-2zM240 329h1v1h-1zM236 330h1v1h-1z"/>
<path fill="#777" filter="url(#bl)" d="M264 303h1v1h-1zM264 304h1v1h-1zM276 304h1v1h-1zM260 305h1v1h-1zM262 307h1v1h-1zM265 307h1v1h-1zM225 308h1v1h-1zM258 309h3v1h-3zM263 309h1v1h-1zM262 310h1v1h-1zM257 311h1v1h-1zM263 311h2v1h-2zM257 312h2v1h-2zM261 312h2v1h-2zM261 314h1v1h-1zM261 316h1v1h-1zM247 317h1v1h-1zM257 317h1v1h-1zM249 318h1v1h-1zM256 318h1v1h-1zM258 318h2v1h-2zM262 318h2v1h-2zM246 319h1v1h-1zM260 319h1v1h-1zM265 319h1v1h-1zM248 320h1v1h-1zM262 320h1v1h-1zM246 321h1v1h-1zM252 321h1v1h-1zM262 321h1v1h-1zM264 321h1v1h-1zM235 322h1v1h-1zM237 322h1v1h-1zM241 322h1v1h-1zM245 322h1v1h-1zM240 323h1v1h-1zM237 324h1v1h-1zM243 324h2v1h-2zM248 324h1v1h-1zM251 324h1v1h-1zM262 324h1v1h-1zM226 325h1v1h-1zM254 325h2v1h-2zM230 326h1v1h-1zM255 326h2v1h-2zM235 327h1v1h-1zM237 327h1v1h-1zM255 327h4v1h-4zM263 327h1v1h-1zM228 328h2v1h-2zM235 328h1v1h-1zM248 328h1v1h-1zM262 328h1v1h-1zM234 329h1v1h-1zM242 329h2v1h-2zM246 329h1v1h-1zM248 329h3v1h-3zM252 329h2v1h-2zM282 329h1v1h-1zM243 330h1v1h-1zM245 330h1v1h-1zM250 330h1v1h-1zM264 330h1v1h-1zM229 331h1v1h-1zM231 331h2v1h-2zM240 331h1v1h-1zM242 331h1v1h-1zM246 331h1v1h-1zM224 333h1v1h-1zM241 333h1v1h-1zM265 333h1v1h-1zM224 334h1v1h-1z"/>
<path fill="#000" filter="url(#bl)" d="M260 302h1v1h-1zM261 305h1v1h-1zM254 306h1v1h-1zM259 306h2v1h-2zM262 306h3v1h-3zM266 306h1v1h-1zM260 307h1v1h-1zM263 307h1v1h-1zM261 308h2v1h-2zM267 308h1v1h-1zM262 309h1v1h-1zM258 310h4v1h-4zM263 310h1v1h-1zM265 310h1v1h-1zM260 311h1v1h-1zM243 312h1v1h-1zM259 312h2v1h-2zM263 312h1v1h-1zM259 313h2v1h-2zM253 314h1v1h-1zM258 314h3v1h-3zM261 315h1v1h-1zM263 315h1v1h-1zM259 316h1v1h-1zM262 316h1v1h-1zM260 317h2v1h-2zM232 318h1v1h-1zM236 318h1v1h-1zM251 318h1v1h-1zM244 319h1v1h-1zM253 319h1v1h-1zM257 319h2v1h-2zM233 320h2v1h-2zM249 320h1v1h-1zM255 320h1v1h-1zM261 320h1v1h-1zM260 321h2v1h-2zM229 322h1v1h-1zM231 322h1v1h-1zM236 322h1v1h-1zM242 322h1v1h-1zM253 322h1v1h-1zM260 322h1v1h-1zM264 322h1v1h-1zM229 323h1v1h-1zM241 323h1v1h-1zM253 323h1v1h-1zM256 323h1v1h-1zM254 324h1v1h-1zM246 325h1v1h-1zM249 325h1v1h-1zM252 325h1v1h-1zM242 326h1v1h-1zM244 326h1v1h-1zM258 326h2v1h-2zM261 326h1v1h-1zM236 327h1v1h-1zM240 327h1v1h-1zM251 327h1v1h-1zM260 327h3v1h-3zM233 328h1v1h-1zM237 328h1v1h-1zM251 328h1v1h-1zM255 328h7v1h-7zM263 328h1v1h-1zM231 329h1v1h-1zM235 329h1v1h-1zM251 329h1v1h-1zM254 329h10v1h-10zM226 330h1v1h-1zM230 330h1v1h-1zM233 330h3v1h-3zM242 330h1v1h-1zM246 330h1v1h-1zM249 330h1v1h-1zM251 330h2v1h-2zM255 330h9v1h-9zM226 331h3v1h-3zM233 331h4v1h-4zM238 331h2v1h-2zM243 331h1v1h-1zM247 331h18v1h-18zM225 332h12v1h-12zM238 332h4v1h-4zM243 332h17v1h-17zM261 332h4v1h-4zM223 333h1v1h-1zM226 333h1v1h-1zM228 333h9v1h-9zM238 333h3v1h-3zM242 333h3v1h-3zM246 333h19v1h-19zM223 334h1v1h-1zM225 334h6v1h-6zM232 334h25v1h-25zM258 334h8v1h-8zM223 335h4v1h-4zM228 335h38v1h-38zM223 336h43v1h-43zM223 337h26v1h-26zM250 337h16v1h-16z"/>
<line x1="221.6" y1="273.5" x2="221.6" y2="337.7" stroke="#999" stroke-width="1.1" stroke-dasharray="1.2 0.8"/>
<line x1="221.1" y1="337.7" x2="268.6" y2="337.7" stroke="#111" stroke-width="1.2" />
<line x1="268.6" y1="337.7" x2="283.5" y2="337.7" stroke="#444" stroke-width="1.1" stroke-dasharray="1.3 1.3"/>
<line x1="283.5" y1="273.5" x2="283.5" y2="337.7" stroke="#222" stroke-width="1.1" />
<rect x="243.6" y="270.8" width="12" height="1.8" fill="#888"/>
<path d="M217.7 272.2L220.2 274.8M217.7 288.2L220.2 290.9M217.7 304.3L220.2 306.9M217.7 320.3L220.2 322.9M217.7 336.4L220.2 339.0M220.3 339.3L222.5 341.3M235.8 339.3L238.0 341.3M251.2 339.3L253.5 341.3M266.7 339.3L268.9 341.3M282.2 339.3L284.4 341.3" stroke="#222" stroke-width="1.3" fill="none"/>
<rect x="215.6" y="302.1" width="1.8" height="7" fill="#444"/>
<rect x="218.3" y="304.1" width="1.5" height="3.5" fill="#555"/>
<rect x="250.6" y="342.2" width="4.5" height="2" fill="#666"/>
<path fill="#bbb" filter="url(#bl)" d="M136 397h1v1h-1zM142 397h1v1h-1zM158 398h1v1h-1zM147 399h1v1h-1zM151 399h1v1h-1zM159 399h1v1h-1zM138 400h1v1h-1zM150 400h1v1h-1zM138 401h2v1h-2zM150 401h1v1h-1zM134 402h1v1h-1zM147 402h1v1h-1zM158 402h1v1h-1zM128 403h1v1h-1zM134 403h1v1h-1zM158 403h1v1h-1zM118 405h1v1h-1zM121 405h1v1h-1zM140 405h1v1h-1zM122 406h1v1h-1zM118 409h1v1h-1z"/>
<path fill="#777" filter="url(#bl)" d="M162 376h1v1h-1zM152 395h1v1h-1zM116 400h1v1h-1zM154 400h1v1h-1zM129 401h1v1h-1zM131 401h1v1h-1zM154 401h1v1h-1zM153 402h1v1h-1zM156 402h1v1h-1zM160 402h1v1h-1zM137 403h1v1h-1zM150 403h3v1h-3zM122 404h1v1h-1zM127 404h1v1h-1zM148 404h2v1h-2zM152 404h2v1h-2zM116 405h1v1h-1zM128 405h1v1h-1zM137 405h1v1h-1zM139 405h1v1h-1zM128 406h1v1h-1zM131 406h2v1h-2zM136 406h1v1h-1zM143 406h1v1h-1zM148 406h1v1h-1zM121 407h1v1h-1zM128 407h1v1h-1zM131 407h1v1h-1zM137 407h2v1h-2zM142 407h2v1h-2zM119 408h1v1h-1zM121 408h1v1h-1zM126 408h1v1h-1zM132 408h1v1h-1zM137 408h1v1h-1zM139 408h1v1h-1zM143 408h2v1h-2zM117 409h1v1h-1zM120 409h1v1h-1zM129 409h1v1h-1zM131 409h1v1h-1zM133 409h1v1h-1zM136 409h1v1h-1zM139 409h2v1h-2zM115 410h1v1h-1zM168 410h1v1h-1zM116 411h1v1h-1zM160 414h1v1h-1z"/>
<path fill="#000" filter="url(#bl)" d="M125 395h1v1h-1zM150 397h1v1h-1zM152 399h2v1h-2zM141 400h1v1h-1zM149 400h1v1h-1zM155 400h1v1h-1zM164 400h1v1h-1zM152 401h1v1h-1zM156 401h1v1h-1zM126 402h1v1h-1zM130 402h1v1h-1zM151 402h1v1h-1zM154 402h2v1h-2zM132 403h1v1h-1zM148 403h1v1h-1zM154 403h3v1h-3zM132 404h2v1h-2zM142 404h1v1h-1zM151 404h1v1h-1zM154 404h5v1h-5zM123 405h1v1h-1zM126 405h1v1h-1zM136 405h1v1h-1zM142 405h1v1h-1zM148 405h10v1h-10zM123 406h2v1h-2zM127 406h1v1h-1zM130 406h1v1h-1zM133 406h1v1h-1zM145 406h1v1h-1zM147 406h1v1h-1zM149 406h10v1h-10zM117 407h1v1h-1zM124 407h2v1h-2zM127 407h1v1h-1zM144 407h2v1h-2zM147 407h12v1h-12zM115 408h1v1h-1zM120 408h1v1h-1zM122 408h3v1h-3zM127 408h1v1h-1zM130 408h2v1h-2zM133 408h2v1h-2zM141 408h2v1h-2zM145 408h14v1h-14zM119 409h1v1h-1zM121 409h1v1h-1zM123 409h6v1h-6zM132 409h1v1h-1zM134 409h2v1h-2zM137 409h2v1h-2zM143 409h16v1h-16zM116 410h1v1h-1zM118 410h11v1h-11zM130 410h17v1h-17zM148 410h12v1h-12zM115 411h1v1h-1zM117 411h5v1h-5zM123 411h30v1h-30zM154 411h6v1h-6zM115 412h45v1h-45zM115 413h15v1h-15zM131 413h15v1h-15zM147 413h13v1h-13zM115 414h6v1h-6zM122 414h9v1h-9zM132 414h28v1h-28zM115 415h46v1h-46z"/>
<line x1="113.7" y1="351.8" x2="113.7" y2="415.8" stroke="#999" stroke-width="1.1" stroke-dasharray="1.2 0.8"/>
<line x1="113.2" y1="415.8" x2="175.2" y2="415.8" stroke="#111" stroke-width="1.2" />
<line x1="113.7" y1="351.8" x2="175.2" y2="351.8" stroke="#222" stroke-width="1.1" />
<line x1="175.2" y1="351.8" x2="175.2" y2="415.8" stroke="#222" stroke-width="1.1" />
<rect x="135.4" y="349.1" width="12" height="1.8" fill="#888"/>
<path d="M109.8 350.5L112.3 353.1M109.8 366.5L112.3 369.1M109.8 382.5L112.3 385.1M109.8 398.5L112.3 401.1M109.8 414.5L112.3 417.1M112.4 417.4L114.6 419.4M127.8 417.4L130.0 419.4M143.1 417.4L145.3 419.4M158.5 417.4L160.7 419.4M173.9 417.4L176.1 419.4" stroke="#222" stroke-width="1.3" fill="none"/>
<rect x="107.7" y="380.3" width="1.8" height="7" fill="#444"/>
<rect x="110.4" y="382.3" width="1.5" height="3.5" fill="#555"/>
<rect x="142.4" y="420.3" width="4.5" height="2" fill="#666"/>
<path fill="#bbb" filter="url(#bl)" d="M260 384h1v1h-1zM258 385h1v1h-1zM260 385h1v1h-1zM263 385h1v1h-1zM258 387h1v1h-1zM261 387h1v1h-1zM256 388h1v1h-1zM258 389h1v1h-1zM263 389h1v1h-1zM255 390h2v1h-2zM258 390h1v1h-1zM261 390h1v1h-1zM256 391h1v1h-1zM255 392h2v1h-2zM258 393h1v1h-1zM257 394h1v1h-1zM262 394h2v1h-2zM256 396h1v1h-1zM240 398h1v1h-1zM256 398h1v1h-1zM262 398h1v1h-1zM237 399h1v1h-1zM241 399h1v1h-1zM262 399h1v1h-1zM243 400h1v1h-1zM255 400h1v1h-1zM257 400h1v1h-1zM238 401h1v1h-1zM250 401h1v1h-1zM224 402h1v1h-1zM237 402h1v1h-1zM250 402h1v1h-1zM255 402h1v1h-1zM262 402h1v1h-1zM265 403h1v1h-1zM228 404h1v1h-1zM238 404h1v1h-1zM245 404h1v1h-1zM231 407h1v1h-1zM242 407h2v1h-2zM223 410h1v1h-1z"/>
<path fill="#777" filter="url(#bl)" d="M281 376h1v1h-1zM235 386h1v1h-1zM259 387h1v1h-1zM268 387h1v1h-1zM258 388h1v1h-1zM261 388h1v1h-1zM256 389h1v1h-1zM261 389h2v1h-2zM262 390h1v1h-1zM264 390h1v1h-1zM226 391h1v1h-1zM259 391h1v1h-1zM257 392h1v1h-1zM262 392h1v1h-1zM260 393h3v1h-3zM256 394h1v1h-1zM257 395h1v1h-1zM258 396h2v1h-2zM254 398h1v1h-1zM258 399h1v1h-1zM261 399h1v1h-1zM267 399h1v1h-1zM248 400h1v1h-1zM250 400h1v1h-1zM260 400h1v1h-1zM262 400h1v1h-1zM244 401h2v1h-2zM257 401h1v1h-1zM259 401h3v1h-3zM227 402h1v1h-1zM232 402h1v1h-1zM251 402h1v1h-1zM253 402h1v1h-1zM256 402h1v1h-1zM259 402h1v1h-1zM229 403h1v1h-1zM238 403h1v1h-1zM246 403h1v1h-1zM248 403h1v1h-1zM252 403h2v1h-2zM255 403h1v1h-1zM258 403h1v1h-1zM261 403h1v1h-1zM263 403h1v1h-1zM247 404h1v1h-1zM250 404h1v1h-1zM262 404h1v1h-1zM278 404h1v1h-1zM231 405h1v1h-1zM233 405h1v1h-1zM238 405h1v1h-1zM243 405h1v1h-1zM240 406h1v1h-1zM244 406h2v1h-2zM247 406h1v1h-1zM249 406h1v1h-1zM238 407h1v1h-1zM245 407h1v1h-1zM248 407h1v1h-1zM265 407h1v1h-1zM229 408h3v1h-3zM238 408h1v1h-1zM241 408h1v1h-1zM243 408h1v1h-1zM265 408h1v1h-1zM223 409h1v1h-1zM226 409h1v1h-1zM234 409h2v1h-2zM238 409h1v1h-1zM226 410h2v1h-2zM230 410h1v1h-1zM235 410h1v1h-1zM223 411h1v1h-1z"/>
<path fill="#000" filter="url(#bl)" d="M261 386h2v1h-2zM259 388h2v1h-2zM257 389h1v1h-1zM259 389h2v1h-2zM259 390h2v1h-2zM258 391h1v1h-1zM260 391h3v1h-3zM259 392h3v1h-3zM257 393h1v1h-1zM259 393h1v1h-1zM263 393h1v1h-1zM259 394h2v1h-2zM260 395h1v1h-1zM263 395h1v1h-1zM261 396h1v1h-1zM260 398h1v1h-1zM259 399h2v1h-2zM256 400h1v1h-1zM261 400h1v1h-1zM253 401h1v1h-1zM258 401h1v1h-1zM262 401h1v1h-1zM269 401h1v1h-1zM247 402h2v1h-2zM252 402h1v1h-1zM257 402h1v1h-1zM260 402h1v1h-1zM254 403h1v1h-1zM259 403h2v1h-2zM262 403h1v1h-1zM239 404h1v1h-1zM249 404h1v1h-1zM251 404h1v1h-1zM253 404h2v1h-2zM256 404h6v1h-6zM264 404h1v1h-1zM232 405h1v1h-1zM240 405h1v1h-1zM249 405h2v1h-2zM252 405h14v1h-14zM224 406h1v1h-1zM232 406h1v1h-1zM239 406h1v1h-1zM250 406h2v1h-2zM254 406h10v1h-10zM235 407h1v1h-1zM239 407h3v1h-3zM246 407h2v1h-2zM249 407h16v1h-16zM232 408h3v1h-3zM236 408h1v1h-1zM240 408h1v1h-1zM242 408h1v1h-1zM244 408h1v1h-1zM246 408h19v1h-19zM225 409h1v1h-1zM229 409h3v1h-3zM233 409h1v1h-1zM236 409h2v1h-2zM239 409h4v1h-4zM244 409h22v1h-22zM228 410h2v1h-2zM231 410h4v1h-4zM236 410h21v1h-21zM258 410h8v1h-8zM226 411h40v1h-40zM223 412h10v1h-10zM234 412h32v1h-32zM223 413h4v1h-4zM228 413h2v1h-2zM231 413h35v1h-35zM223 414h44v1h-44zM223 415h44v1h-44z"/>
<line x1="221.6" y1="351.8" x2="221.6" y2="415.8" stroke="#999" stroke-width="1.1" stroke-dasharray="1.2 0.8"/>
<line x1="221.1" y1="415.8" x2="283.5" y2="415.8" stroke="#111" stroke-width="1.2" />
<line x1="221.6" y1="351.8" x2="283.5" y2="351.8" stroke="#222" stroke-width="1.1" />
<line x1="283.5" y1="351.8" x2="283.5" y2="415.8" stroke="#222" stroke-width="1.1" />
<rect x="243.6" y="349.1" width="12" height="1.8" fill="#888"/>
<path d="M217.7 350.5L220.2 353.1M217.7 366.5L220.2 369.1M217.7 382.5L220.2 385.1M217.7 398.5L220.2 401.1M217.7 414.5L220.2 417.1M220.3 417.4L222.5 419.4M235.8 417.4L238.0 419.4M251.2 417.4L253.5 419.4M266.7 417.4L268.9 419.4M282.2 417.4L284.4 419.4" stroke="#222" stroke-width="1.3" fill="none"/>
<rect x="215.6" y="380.3" width="1.8" height="7" fill="#444"/>
<rect x="218.3" y="382.3" width="1.5" height="3.5" fill="#555"/>
<rect x="250.6" y="420.3" width="4.5" height="2" fill="#666"/>
<path fill="#bbb" filter="url(#bl)" d="M153 473h1v1h-1zM117 475h1v1h-1zM129 476h1v1h-1zM140 476h1v1h-1zM134 477h1v1h-1zM139 477h1v1h-1zM134 478h1v1h-1zM136 478h1v1h-1zM138 478h2v1h-2zM143 478h1v1h-1zM153 478h1v1h-1zM138 479h1v1h-1zM155 479h1v1h-1zM126 480h1v1h-1zM129 480h3v1h-3zM134 480h1v1h-1zM139 480h1v1h-1zM153 480h1v1h-1zM143 481h1v1h-1zM153 481h1v1h-1zM120 482h1v1h-1zM123 482h1v1h-1zM127 482h2v1h-2zM148 482h1v1h-1zM121 483h1v1h-1zM124 483h1v1h-1zM127 484h1v1h-1zM122 485h1v1h-1zM134 485h1v1h-1zM136 485h1v1h-1zM143 485h1v1h-1zM116 486h1v1h-1zM144 487h1v1h-1z"/>
<path fill="#777" filter="url(#bl)" d="M165 449h1v1h-1zM159 462h1v1h-1zM153 474h1v1h-1zM155 478h1v1h-1zM146 479h1v1h-1zM154 479h1v1h-1zM117 480h1v1h-1zM127 480h1v1h-1zM150 480h3v1h-3zM125 481h1v1h-1zM133 481h1v1h-1zM148 481h1v1h-1zM150 481h1v1h-1zM154 481h2v1h-2zM138 482h1v1h-1zM147 482h1v1h-1zM119 483h1v1h-1zM125 483h1v1h-1zM132 483h1v1h-1zM157 483h2v1h-2zM132 484h1v1h-1zM136 484h1v1h-1zM139 484h1v1h-1zM123 485h1v1h-1zM126 485h2v1h-2zM132 485h1v1h-1zM141 485h1v1h-1zM117 486h2v1h-2zM121 486h1v1h-1zM123 486h1v1h-1zM127 486h2v1h-2zM130 486h1v1h-1zM133 486h2v1h-2zM137 486h2v1h-2zM140 486h1v1h-1zM142 486h1v1h-1zM145 486h1v1h-1zM159 486h1v1h-1zM117 487h1v1h-1zM122 487h1v1h-1zM130 487h2v1h-2zM134 487h2v1h-2zM139 487h2v1h-2zM143 487h1v1h-1zM159 487h1v1h-1zM116 488h1v1h-1zM134 488h1v1h-1zM138 488h1v1h-1zM142 488h1v1h-1zM144 488h1v1h-1zM160 489h1v1h-1z"/>
<path fill="#000" filter="url(#bl)" d="M139 475h1v1h-1zM123 476h1v1h-1zM144 476h1v1h-1zM164 476h1v1h-1zM155 477h1v1h-1zM158 477h1v1h-1zM125 478h1v1h-1zM137 478h1v1h-1zM145 478h2v1h-2zM132 479h1v1h-1zM136 479h1v1h-1zM141 479h1v1h-1zM149 479h1v1h-1zM151 479h1v1h-1zM158 479h1v1h-1zM132 480h1v1h-1zM146 480h1v1h-1zM148 480h1v1h-1zM156 480h2v1h-2zM121 481h1v1h-1zM124 481h1v1h-1zM132 481h1v1h-1zM134 481h1v1h-1zM145 481h1v1h-1zM152 481h1v1h-1zM156 481h1v1h-1zM158 481h1v1h-1zM122 482h1v1h-1zM124 482h1v1h-1zM126 482h1v1h-1zM137 482h1v1h-1zM149 482h8v1h-8zM158 482h1v1h-1zM115 483h2v1h-2zM139 483h1v1h-1zM146 483h11v1h-11zM120 484h1v1h-1zM133 484h1v1h-1zM146 484h13v1h-13zM119 485h2v1h-2zM124 485h1v1h-1zM129 485h2v1h-2zM146 485h13v1h-13zM120 486h1v1h-1zM122 486h1v1h-1zM124 486h3v1h-3zM131 486h2v1h-2zM135 486h2v1h-2zM141 486h1v1h-1zM144 486h1v1h-1zM146 486h13v1h-13zM116 487h1v1h-1zM119 487h3v1h-3zM123 487h7v1h-7zM132 487h2v1h-2zM136 487h1v1h-1zM138 487h1v1h-1zM141 487h2v1h-2zM145 487h14v1h-14zM117 488h17v1h-17zM135 488h1v1h-1zM137 488h1v1h-1zM140 488h2v1h-2zM143 488h1v1h-1zM145 488h15v1h-15zM115 489h28v1h-28zM144 489h16v1h-16zM115 490h45v1h-45zM115 491h46v1h-46zM115 492h46v1h-46zM115 493h45v1h-45z"/>
<line x1="113.7" y1="430.5" x2="113.7" y2="494.4" stroke="#999" stroke-width="1.1" stroke-dasharray="1.2 0.8"/>
<line x1="113.2" y1="494.4" x2="175.2" y2="494.4" stroke="#111" stroke-width="1.2" />
<line x1="113.7" y1="430.5" x2="175.2" y2="430.5" stroke="#222" stroke-width="1.1" />
<line x1="175.2" y1="430.5" x2="175.2" y2="494.4" stroke="#222" stroke-width="1.1" />
<rect x="135.4" y="427.8" width="12" height="1.8" fill="#888"/>
<path d="M109.8 429.2L112.3 431.8M109.8 445.2L112.3 447.8M109.8 461.1L112.3 463.8M109.8 477.1L112.3 479.7M109.8 493.1L112.3 495.7M112.4 496.0L114.6 498.0M127.8 496.0L130.0 498.0M143.1 496.0L145.3 498.0M158.5 496.0L160.7 498.0M173.9 496.0L176.1 498.0" stroke="#222" stroke-width="1.3" fill="none"/>
<rect x="107.7" y="458.9" width="1.8" height="7" fill="#444"/>
<rect x="110.4" y="460.9" width="1.5" height="3.5" fill="#555"/>
<rect x="142.4" y="498.9" width="4.5" height="2" fill="#666"/>
<path fill="#bbb" filter="url(#bl)" d="M260 459h1v1h-1zM262 461h1v1h-1zM264 462h1v1h-1zM266 463h1v1h-1zM262 464h1v1h-1zM263 466h1v1h-1zM260 467h1v1h-1zM257 468h1v1h-1zM262 469h1v1h-1zM264 470h1v1h-1zM232 471h1v1h-1zM263 471h1v1h-1zM256 472h2v1h-2zM261 473h1v1h-1zM243 474h1v1h-1zM247 474h1v1h-1zM260 474h1v1h-1zM263 474h1v1h-1zM259 475h1v1h-1zM262 475h1v1h-1zM260 476h1v1h-1zM263 476h1v1h-1zM264 477h1v1h-1zM241 478h1v1h-1zM246 478h1v1h-1zM251 478h1v1h-1zM255 478h1v1h-1zM261 478h1v1h-1zM229 479h1v1h-1zM246 479h1v1h-1zM226 480h1v1h-1zM233 480h1v1h-1zM239 480h1v1h-1zM246 480h1v1h-1zM256 480h1v1h-1zM260 480h1v1h-1zM267 480h1v1h-1zM236 481h1v1h-1zM253 481h2v1h-2zM236 482h1v1h-1zM239 482h1v1h-1zM263 482h1v1h-1zM224 483h1v1h-1zM229 483h1v1h-1zM248 483h1v1h-1zM234 484h1v1h-1zM241 484h2v1h-2zM264 484h1v1h-1zM224 485h1v1h-1zM236 485h1v1h-1zM239 485h1v1h-1zM246 485h1v1h-1zM237 486h1v1h-1zM229 487h1v1h-1z"/>
<path fill="#777" filter="url(#bl)" d="M248 433h1v1h-1zM265 444h1v1h-1zM264 461h1v1h-1zM263 462h1v1h-1zM264 463h1v1h-1zM256 464h1v1h-1zM261 464h1v1h-1zM264 464h1v1h-1zM261 465h1v1h-1zM257 466h1v1h-1zM262 466h1v1h-1zM262 467h3v1h-3zM262 468h2v1h-2zM265 468h1v1h-1zM259 469h2v1h-2zM263 469h1v1h-1zM265 469h1v1h-1zM258 470h3v1h-3zM263 470h1v1h-1zM259 471h2v1h-2zM258 472h1v1h-1zM258 473h3v1h-3zM263 473h2v1h-2zM256 474h1v1h-1zM258 474h2v1h-2zM235 475h1v1h-1zM240 475h1v1h-1zM254 475h1v1h-1zM258 475h1v1h-1zM236 476h1v1h-1zM261 476h1v1h-1zM258 477h1v1h-1zM260 477h1v1h-1zM257 478h1v1h-1zM237 480h2v1h-2zM258 480h1v1h-1zM261 480h2v1h-2zM245 481h1v1h-1zM255 481h1v1h-1zM257 481h1v1h-1zM237 482h1v1h-1zM248 482h1v1h-1zM253 482h2v1h-2zM249 483h1v1h-1zM251 483h2v1h-2zM254 483h1v1h-1zM262 483h1v1h-1zM229 484h1v1h-1zM231 484h1v1h-1zM233 484h1v1h-1zM250 484h1v1h-1zM252 484h1v1h-1zM263 484h1v1h-1zM250 485h1v1h-1zM264 485h1v1h-1zM231 486h1v1h-1zM234 486h1v1h-1zM243 486h4v1h-4zM224 487h2v1h-2zM230 487h2v1h-2zM235 487h1v1h-1zM237 487h1v1h-1zM239 487h1v1h-1zM246 487h1v1h-1zM229 488h2v1h-2zM240 488h1v1h-1zM242 488h1v1h-1zM223 489h1v1h-1zM228 489h1v1h-1zM243 489h1v1h-1zM266 492h1v1h-1z"/>
<path fill="#000" filter="url(#bl)" d="M263 457h1v1h-1zM261 458h2v1h-2zM260 461h1v1h-1zM261 463h3v1h-3zM259 464h1v1h-1zM255 465h1v1h-1zM260 465h1v1h-1zM262 465h3v1h-3zM261 466h1v1h-1zM265 466h1v1h-1zM261 467h1v1h-1zM259 468h1v1h-1zM255 469h1v1h-1zM261 470h1v1h-1zM258 471h1v1h-1zM261 471h2v1h-2zM230 472h1v1h-1zM259 472h2v1h-2zM263 472h1v1h-1zM257 475h1v1h-1zM261 475h1v1h-1zM264 475h1v1h-1zM259 476h1v1h-1zM262 476h1v1h-1zM237 477h1v1h-1zM246 477h1v1h-1zM253 477h2v1h-2zM259 477h1v1h-1zM262 477h1v1h-1zM234 478h1v1h-1zM259 478h1v1h-1zM263 478h1v1h-1zM234 479h1v1h-1zM240 479h1v1h-1zM251 479h1v1h-1zM259 479h2v1h-2zM262 479h1v1h-1zM229 480h1v1h-1zM255 480h1v1h-1zM257 480h1v1h-1zM259 480h1v1h-1zM263 480h1v1h-1zM227 481h1v1h-1zM233 481h2v1h-2zM240 481h1v1h-1zM250 481h1v1h-1zM259 481h2v1h-2zM262 481h1v1h-1zM250 482h1v1h-1zM252 482h1v1h-1zM255 482h7v1h-7zM236 483h1v1h-1zM238 483h1v1h-1zM243 483h1v1h-1zM253 483h1v1h-1zM255 483h6v1h-6zM263 483h1v1h-1zM226 484h1v1h-1zM251 484h1v1h-1zM253 484h10v1h-10zM225 485h1v1h-1zM232 485h1v1h-1zM240 485h1v1h-1zM249 485h1v1h-1zM251 485h13v1h-13zM223 486h1v1h-1zM230 486h1v1h-1zM233 486h1v1h-1zM236 486h1v1h-1zM239 486h2v1h-2zM248 486h16v1h-16zM227 487h1v1h-1zM232 487h1v1h-1zM234 487h1v1h-1zM244 487h1v1h-1zM247 487h18v1h-18zM224 488h1v1h-1zM227 488h1v1h-1zM231 488h6v1h-6zM238 488h2v1h-2zM241 488h1v1h-1zM243 488h18v1h-18zM262 488h3v1h-3zM224 489h2v1h-2zM227 489h1v1h-1zM229 489h5v1h-5zM235 489h7v1h-7zM244 489h21v1h-21zM223 490h42v1h-42zM223 491h4v1h-4zM228 491h18v1h-18zM247 491h19v1h-19zM223 492h43v1h-43zM223 493h44v1h-44z"/>
<line x1="221.6" y1="430.5" x2="221.6" y2="494.4" stroke="#999" stroke-width="1.1" stroke-dasharray="1.2 0.8"/>
<line x1="221.1" y1="494.4" x2="283.5" y2="494.4" stroke="#111" stroke-width="1.2" />
<line x1="221.6" y1="430.5" x2="283.5" y2="430.5" stroke="#222" stroke-width="1.1" />
<line x1="283.5" y1="430.5" x2="283.5" y2="494.4" stroke="#222" stroke-width="1.1" />
<rect x="243.6" y="427.8" width="12" height="1.8" fill="#888"/>
<path d="M217.7 429.2L220.2 431.8M217.7 445.2L220.2 447.8M217.7 461.1L220.2 463.8M217.7 477.1L220.2 479.7M217.7 493.1L220.2 495.7M220.3 496.0L222.5 498.0M235.8 496.0L238.0 498.0M251.2 496.0L253.5 498.0M266.7 496.0L268.9 498.0M282.2 496.0L284.4 498.0" stroke="#222" stroke-width="1.3" fill="none"/>
<rect x="215.6" y="458.9" width="1.8" height="7" fill="#444"/>
<rect x="218.3" y="460.9" width="1.5" height="3.5" fill="#555"/>
<rect x="250.6" y="498.9" width="4.5" height="2" fill="#666"/>
<path fill="#bbb" filter="url(#bl)" d="M131 539h1v1h-1zM130 540h1v1h-1zM123 541h2v1h-2zM118 544h1v1h-1zM121 544h1v1h-1zM127 544h1v1h-1zM126 545h1v1h-1zM133 545h1v1h-1zM139 545h1v1h-1zM125 546h1v1h-1zM131 546h1v1h-1zM134 546h1v1h-1zM131 547h1v1h-1zM134 547h2v1h-2zM142 547h1v1h-1zM128 548h2v1h-2zM141 549h1v1h-1zM123 550h1v1h-1zM131 550h1v1h-1zM133 550h1v1h-1zM133 551h1v1h-1zM149 551h1v1h-1zM116 552h1v1h-1zM121 552h1v1h-1zM127 552h2v1h-2zM133 552h1v1h-1zM137 552h1v1h-1zM140 552h1v1h-1zM156 552h1v1h-1zM125 553h1v1h-1zM129 553h1v1h-1zM147 553h1v1h-1zM124 554h1v1h-1zM132 554h1v1h-1zM134 554h1v1h-1zM128 555h1v1h-1zM131 555h1v1h-1zM139 555h1v1h-1zM127 556h1v1h-1zM136 556h1v1h-1zM134 557h1v1h-1zM137 557h1v1h-1zM153 557h1v1h-1zM130 558h1v1h-1zM134 558h4v1h-4zM154 558h1v1h-1zM157 558h1v1h-1zM132 559h1v1h-1zM135 560h1v1h-1zM141 560h1v1h-1zM155 560h1v1h-1zM132 561h1v1h-1zM134 562h1v1h-1zM152 562h1v1h-1zM143 564h1v1h-1z"/>
<path fill="#777" filter="url(#bl)" d="M125 537h1v1h-1zM123 538h1v1h-1zM135 542h2v1h-2zM124 543h1v1h-1zM126 544h1v1h-1zM138 546h2v1h-2zM119 548h1v1h-1zM139 548h1v1h-1zM144 548h1v1h-1zM132 549h2v1h-2zM118 550h2v1h-2zM122 550h1v1h-1zM134 551h1v1h-1zM137 551h1v1h-1zM127 553h1v1h-1zM135 553h1v1h-1zM124 555h1v1h-1zM127 555h1v1h-1zM138 555h1v1h-1zM147 555h1v1h-1zM152 555h1v1h-1zM120 556h3v1h-3zM126 556h1v1h-1zM151 556h2v1h-2zM154 556h1v1h-1zM123 557h6v1h-6zM139 557h1v1h-1zM117 558h1v1h-1zM127 558h1v1h-1zM129 558h1v1h-1zM151 558h1v1h-1zM138 559h1v1h-1zM141 559h1v1h-1zM149 559h1v1h-1zM130 560h1v1h-1zM147 560h3v1h-3zM151 560h1v1h-1zM156 560h1v1h-1zM158 560h1v1h-1zM116 561h2v1h-2zM133 561h1v1h-1zM148 561h2v1h-2zM151 561h1v1h-1zM155 561h3v1h-3zM146 562h1v1h-1zM144 563h1v1h-1zM156 563h1v1h-1zM137 564h2v1h-2zM141 564h1v1h-1zM157 564h1v1h-1zM137 565h1v1h-1zM141 565h1v1h-1zM159 565h1v1h-1zM138 566h1v1h-1zM143 566h1v1h-1zM159 566h1v1h-1zM142 567h2v1h-2zM160 569h1v1h-1zM160 571h1v1h-1z"/>
<path fill="#000" filter="url(#bl)" d="M127 536h1v1h-1zM137 538h1v1h-1zM128 544h1v1h-1zM141 545h1v1h-1zM147 545h1v1h-1zM120 546h1v1h-1zM119 547h1v1h-1zM126 547h1v1h-1zM141 547h1v1h-1zM132 548h1v1h-1zM129 550h2v1h-2zM134 550h1v1h-1zM135 551h1v1h-1zM126 552h1v1h-1zM149 552h1v1h-1zM123 553h1v1h-1zM135 554h1v1h-1zM145 554h1v1h-1zM148 554h2v1h-2zM122 555h2v1h-2zM132 555h1v1h-1zM140 555h1v1h-1zM123 556h1v1h-1zM128 556h1v1h-1zM120 557h1v1h-1zM122 557h1v1h-1zM138 557h1v1h-1zM147 557h1v1h-1zM154 557h1v1h-1zM118 558h1v1h-1zM120 558h7v1h-7zM128 558h1v1h-1zM116 559h1v1h-1zM119 559h10v1h-10zM130 559h1v1h-1zM147 559h1v1h-1zM117 560h4v1h-4zM122 560h8v1h-8zM133 560h1v1h-1zM136 560h1v1h-1zM138 560h1v1h-1zM145 560h1v1h-1zM150 560h1v1h-1zM153 560h2v1h-2zM159 560h1v1h-1zM115 561h1v1h-1zM119 561h12v1h-12zM135 561h1v1h-1zM150 561h1v1h-1zM152 561h3v1h-3zM116 562h18v1h-18zM135 562h1v1h-1zM145 562h1v1h-1zM148 562h4v1h-4zM153 562h2v1h-2zM115 563h17v1h-17zM133 563h1v1h-1zM138 563h1v1h-1zM145 563h11v1h-11zM115 564h19v1h-19zM135 564h1v1h-1zM140 564h1v1h-1zM144 564h13v1h-13zM158 564h2v1h-2zM115 565h4v1h-4zM120 565h16v1h-16zM138 565h1v1h-1zM140 565h1v1h-1zM145 565h3v1h-3zM149 565h7v1h-7zM157 565h1v1h-1zM115 566h23v1h-23zM139 566h4v1h-4zM144 566h15v1h-15zM115 567h7v1h-7zM123 567h16v1h-16zM140 567h2v1h-2zM144 567h15v1h-15zM115 568h35v1h-35zM151 568h9v1h-9zM115 569h45v1h-45zM115 570h46v1h-46zM115 571h45v1h-45zM115 572h3v1h-3zM119 572h34v1h-34zM154 572h7v1h-7zM115 573h46v1h-46z"/>
<line x1="113.7" y1="510.4" x2="113.7" y2="573.8" stroke="#999" stroke-width="1.1" stroke-dasharray="1.2 0.8"/>
<line x1="113.2" y1="573.8" x2="175.2" y2="573.8" stroke="#111" stroke-width="1.2" />
<line x1="113.7" y1="510.4" x2="175.2" y2="510.4" stroke="#222" stroke-width="1.1" />
<line x1="175.2" y1="510.4" x2="175.2" y2="573.8" stroke="#222" stroke-width="1.1" />
<rect x="135.4" y="507.7" width="12" height="1.8" fill="#888"/>
<path d="M109.8 509.1L112.3 511.7M109.8 525.0L112.3 527.5M109.8 540.8L112.3 543.4M109.8 556.6L112.3 559.2M109.8 572.5L112.3 575.1M112.4 575.4L114.6 577.4M127.8 575.4L130.0 577.4M143.1 575.4L145.3 577.4M158.5 575.4L160.7 577.4M173.9 575.4L176.1 577.4" stroke="#222" stroke-width="1.3" fill="none"/>
<rect x="107.7" y="538.6" width="1.8" height="7" fill="#444"/>
<rect x="110.4" y="540.6" width="1.5" height="3.5" fill="#555"/>
<rect x="142.4" y="578.3" width="4.5" height="2" fill="#666"/>
<path fill="#bbb" filter="url(#bl)" d="M260 541h1v1h-1zM261 542h2v1h-2zM262 544h1v1h-1zM267 544h1v1h-1zM259 545h1v1h-1zM264 545h1v1h-1zM259 546h1v1h-1zM261 546h1v1h-1zM260 547h1v1h-1zM263 547h1v1h-1zM266 547h2v1h-2zM264 548h2v1h-2zM257 549h1v1h-1zM260 549h1v1h-1zM258 550h2v1h-2zM264 550h1v1h-1zM231 551h1v1h-1zM247 551h1v1h-1zM257 551h1v1h-1zM260 551h1v1h-1zM262 551h1v1h-1zM265 551h1v1h-1zM228 552h1v1h-1zM260 552h1v1h-1zM235 553h1v1h-1zM238 553h1v1h-1zM246 553h1v1h-1zM248 553h1v1h-1zM233 554h1v1h-1zM237 554h1v1h-1zM245 554h1v1h-1zM256 554h1v1h-1zM266 554h1v1h-1zM230 555h1v1h-1zM237 555h1v1h-1zM242 555h1v1h-1zM260 555h1v1h-1zM225 556h1v1h-1zM228 556h1v1h-1zM234 556h1v1h-1zM238 556h1v1h-1zM242 556h1v1h-1zM244 556h1v1h-1zM247 556h1v1h-1zM253 556h1v1h-1zM256 556h1v1h-1zM231 557h1v1h-1zM235 557h1v1h-1zM238 557h1v1h-1zM249 557h1v1h-1zM253 557h2v1h-2zM259 557h1v1h-1zM261 557h1v1h-1zM228 558h1v1h-1zM233 558h1v1h-1zM254 558h1v1h-1zM258 558h1v1h-1zM265 558h1v1h-1zM231 559h1v1h-1zM233 559h1v1h-1zM235 559h1v1h-1zM260 559h1v1h-1zM233 560h1v1h-1zM239 560h1v1h-1zM246 560h1v1h-1zM251 560h1v1h-1zM262 560h1v1h-1zM229 561h1v1h-1zM233 561h1v1h-1zM261 561h1v1h-1zM231 562h1v1h-1zM235 562h2v1h-2zM242 562h1v1h-1zM264 562h1v1h-1zM232 563h2v1h-2zM239 563h1v1h-1zM243 563h2v1h-2zM230 564h1v1h-1zM225 565h1v1h-1zM236 565h1v1h-1zM267 571h1v1h-1z"/>
<path fill="#777" filter="url(#bl)" d="M227 514h1v1h-1zM265 537h1v1h-1zM259 543h1v1h-1zM262 543h1v1h-1zM263 545h1v1h-1zM260 546h1v1h-1zM262 546h1v1h-1zM264 547h1v1h-1zM231 548h1v1h-1zM258 548h1v1h-1zM260 548h2v1h-2zM258 549h1v1h-1zM261 549h1v1h-1zM233 550h1v1h-1zM256 550h2v1h-2zM260 550h1v1h-1zM262 550h1v1h-1zM224 551h1v1h-1zM238 551h1v1h-1zM250 551h1v1h-1zM264 551h1v1h-1zM263 552h1v1h-1zM232 553h1v1h-1zM261 553h1v1h-1zM262 554h1v1h-1zM233 555h1v1h-1zM255 555h1v1h-1zM259 555h1v1h-1zM261 555h1v1h-1zM264 555h1v1h-1zM259 556h1v1h-1zM263 556h1v1h-1zM229 557h1v1h-1zM237 557h1v1h-1zM244 557h1v1h-1zM255 557h1v1h-1zM232 558h1v1h-1zM241 558h1v1h-1zM260 558h1v1h-1zM224 559h1v1h-1zM229 559h1v1h-1zM243 559h1v1h-1zM224 560h1v1h-1zM243 560h1v1h-1zM253 560h1v1h-1zM235 561h1v1h-1zM238 561h1v1h-1zM254 561h2v1h-2zM260 561h1v1h-1zM245 562h1v1h-1zM253 562h1v1h-1zM255 562h3v1h-3zM261 562h2v1h-2zM240 563h1v1h-1zM251 563h1v1h-1zM260 563h2v1h-2zM263 563h1v1h-1zM267 563h1v1h-1zM227 564h1v1h-1zM231 564h1v1h-1zM233 564h1v1h-1zM236 564h1v1h-1zM238 564h1v1h-1zM248 564h1v1h-1zM250 564h1v1h-1zM265 564h1v1h-1zM232 565h2v1h-2zM238 565h1v1h-1zM242 565h2v1h-2zM245 565h2v1h-2zM248 565h1v1h-1zM224 566h1v1h-1zM226 566h1v1h-1zM229 566h1v1h-1zM232 566h1v1h-1zM234 566h2v1h-2zM240 566h1v1h-1zM242 566h2v1h-2zM265 566h2v1h-2zM223 567h1v1h-1zM244 567h2v1h-2zM247 567h1v1h-1zM223 569h1v1h-1zM267 572h1v1h-1z"/>
<path fill="#000" filter="url(#bl)" d="M259 541h1v1h-1zM263 541h1v1h-1zM264 542h1v1h-1zM261 543h1v1h-1zM260 545h1v1h-1zM267 545h1v1h-1zM263 546h1v1h-1zM261 547h2v1h-2zM265 547h1v1h-1zM262 548h2v1h-2zM262 549h2v1h-2zM234 550h1v1h-1zM261 550h1v1h-1zM237 551h1v1h-1zM261 551h1v1h-1zM266 551h1v1h-1zM259 552h1v1h-1zM261 552h1v1h-1zM229 553h1v1h-1zM264 553h1v1h-1zM240 554h1v1h-1zM257 554h2v1h-2zM260 554h2v1h-2zM239 555h1v1h-1zM243 555h1v1h-1zM252 555h1v1h-1zM250 556h1v1h-1zM258 556h1v1h-1zM260 556h2v1h-2zM239 557h3v1h-3zM251 557h1v1h-1zM257 557h1v1h-1zM260 557h1v1h-1zM263 557h1v1h-1zM234 558h1v1h-1zM245 558h1v1h-1zM247 558h1v1h-1zM261 558h1v1h-1zM232 559h1v1h-1zM238 559h1v1h-1zM241 559h1v1h-1zM250 559h1v1h-1zM252 559h1v1h-1zM255 559h1v1h-1zM258 559h1v1h-1zM267 559h1v1h-1zM238 560h1v1h-1zM241 560h1v1h-1zM245 560h1v1h-1zM254 560h1v1h-1zM230 561h1v1h-1zM252 561h1v1h-1zM258 561h1v1h-1zM262 561h3v1h-3zM237 562h1v1h-1zM249 562h1v1h-1zM252 562h1v1h-1zM254 562h1v1h-1zM258 562h2v1h-2zM263 562h1v1h-1zM225 563h1v1h-1zM229 563h1v1h-1zM248 563h1v1h-1zM252 563h1v1h-1zM254 563h6v1h-6zM262 563h1v1h-1zM242 564h2v1h-2zM249 564h1v1h-1zM251 564h10v1h-10zM262 564h3v1h-3zM226 565h1v1h-1zM229 565h1v1h-1zM231 565h1v1h-1zM234 565h1v1h-1zM237 565h1v1h-1zM239 565h2v1h-2zM244 565h1v1h-1zM247 565h1v1h-1zM249 565h2v1h-2zM252 565h14v1h-14zM227 566h2v1h-2zM230 566h1v1h-1zM233 566h1v1h-1zM236 566h1v1h-1zM238 566h2v1h-2zM244 566h3v1h-3zM248 566h17v1h-17zM226 567h11v1h-11zM238 567h6v1h-6zM246 567h1v1h-1zM248 567h8v1h-8zM257 567h9v1h-9zM223 568h2v1h-2zM226 568h10v1h-10zM237 568h4v1h-4zM242 568h1v1h-1zM244 568h22v1h-22zM224 569h33v1h-33zM258 569h8v1h-8zM224 570h20v1h-20zM245 570h13v1h-13zM259 570h4v1h-4zM264 570h3v1h-3zM223 571h2v1h-2zM226 571h8v1h-8zM235 571h20v1h-20zM256 571h11v1h-11zM223 572h15v1h-15zM239 572h20v1h-20zM260 572h7v1h-7zM223 573h20v1h-20zM244 573h24v1h-24z"/>
<line x1="221.6" y1="510.4" x2="221.6" y2="573.8" stroke="#999" stroke-width="1.1" stroke-dasharray="1.2 0.8"/>
<line x1="221.1" y1="573.8" x2="283.5" y2="573.8" stroke="#111" stroke-width="1.2" />
<line x1="221.6" y1="510.4" x2="283.5" y2="510.4" stroke="#222" stroke-width="1.1" />
<line x1="283.5" y1="510.4" x2="283.5" y2="573.8" stroke="#222" stroke-width="1.1" />
<rect x="243.6" y="507.7" width="12" height="1.8" fill="#888"/>
<path d="M217.7 509.1L220.2 511.7M217.7 525.0L220.2 527.5M217.7 540.8L220.2 543.4M217.7 556.6L220.2 559.2M217.7 572.5L220.2 575.1M220.3 575.4L222.5 577.4M235.8 575.4L238.0 577.4M251.2 575.4L253.5 577.4M266.7 575.4L268.9 577.4M282.2 575.4L284.4 577.4" stroke="#222" stroke-width="1.3" fill="none"/>
<rect x="215.6" y="538.6" width="1.8" height="7" fill="#444"/>
<rect x="218.3" y="540.6" width="1.5" height="3.5" fill="#555"/>
<rect x="250.6" y="578.3" width="4.5" height="2" fill="#666"/>
<defs><radialGradient id="hz"><stop offset="0" stop-color="#000" stop-opacity="0.4"/><stop offset="0.6" stop-color="#000" stop-opacity="0.2"/><stop offset="1" stop-color="#000" stop-opacity="0"/></radialGradient></defs>
<ellipse cx="261" cy="312" rx="5" ry="7.5" fill="url(#hz)" transform="rotate(0 261 312)"/>
<ellipse cx="260.5" cy="391" rx="5" ry="6.5" fill="url(#hz)" transform="rotate(0 260.5 391)"/>
<ellipse cx="261.5" cy="469" rx="4.5" ry="8.5" fill="url(#hz)" transform="rotate(35 261.5 469)"/>
<ellipse cx="262" cy="549" rx="5" ry="7.5" fill="url(#hz)" transform="rotate(0 262 549)"/>
<text x="241.6" y="60.1" font-size="10.4" text-anchor="start" stroke-width="0.45" >0.09%</text>
<text x="241.6" y="140.9" font-size="10.4" text-anchor="start" stroke-width="0.45" >0.17%</text>
<text x="241.9" y="217.5" font-size="10.4" text-anchor="start" stroke-width="0.45" >0.05%</text>
<text x="241.9" y="300.0" font-size="10.4" text-anchor="start" stroke-width="0.45" >2.68%</text>
<text x="242.4" y="377.2" font-size="10.4" text-anchor="start" stroke-width="0.45" >2.22%</text>
<text x="242.7" y="454.0" font-size="10.4" text-anchor="start" stroke-width="0.45" >3.35%</text>
<text x="243.1" y="535.0" font-size="10.4" text-anchor="start" stroke-width="0.45" >1.92%</text>
<ellipse cx="259.2" cy="76.7" rx="9.4" ry="10.3" fill="none" stroke="#000" stroke-width="1.2"/>
<ellipse cx="259.5" cy="155.2" rx="9.2" ry="10.2" fill="none" stroke="#000" stroke-width="1.2"/>
<ellipse cx="259.5" cy="233.8" rx="9.3" ry="10.2" fill="none" stroke="#000" stroke-width="1.2"/>
<ellipse cx="260" cy="311.7" rx="9.5" ry="10" fill="none" stroke="#000" stroke-width="1.2"/>
<ellipse cx="260" cy="389.6" rx="9.7" ry="10" fill="none" stroke="#000" stroke-width="1.2"/>
<ellipse cx="260.4" cy="468" rx="9.5" ry="10" fill="none" stroke="#000" stroke-width="1.2"/>
<ellipse cx="260.4" cy="548.8" rx="9.5" ry="10" fill="none" stroke="#000" stroke-width="1.2"/>
<line x1="100.6" y1="271.0" x2="100.6" y2="400.0" stroke="#000" stroke-width="2" />
<path d="M94.8 272.0L100.6 248.8L106.4 272.0Z" fill="#000"/>
<line x1="209.0" y1="270.3" x2="209.0" y2="404.7" stroke="#000" stroke-width="2" />
<path d="M203.5 271.3L209.0 248.8L214.5 271.3Z" fill="#000"/>
<text transform="translate(95.5,337.5) rotate(-90)" font-size="10" text-anchor="middle" stroke-width="0.45">LMP2/HLA-A*0201</text>
<text transform="translate(206.8,336.5) rotate(-90)" font-size="10" text-anchor="middle" stroke-width="0.45">MP/HLA-A*0201</text>
<line x1="137.0" y1="591.0" x2="215.0" y2="591.0" stroke="#000" stroke-width="2" />
<path d="M214 585.6L238.5 591L214 596.6Z" fill="#000"/>
<text x="152.5" y="606.0" font-size="10" text-anchor="start" stroke-width="0.45" >CD8-FITC</text>
<text x="315.0" y="22.6" font-size="30.6" text-anchor="start" stroke-width="0.45" >B</text>
<line x1="342.2" y1="37.2" x2="342.2" y2="167.5" stroke="#444" stroke-width="1" />
<line x1="342.2" y1="167.5" x2="518.0" y2="167.5" stroke="#333" stroke-width="1" />
<line x1="339.7" y1="167.5" x2="342.2" y2="167.5" stroke="#444" stroke-width="1" />
<text x="337.4" y="170.0" font-size="7" text-anchor="end" stroke-width="0.15" >0</text>
<line x1="339.7" y1="141.4" x2="342.2" y2="141.4" stroke="#444" stroke-width="1" />
<text x="337.4" y="143.9" font-size="7" text-anchor="end" stroke-width="0.15" >0.5</text>
<line x1="339.7" y1="115.4" x2="342.2" y2="115.4" stroke="#444" stroke-width="1" />
<text x="337.4" y="117.9" font-size="7" text-anchor="end" stroke-width="0.15" >1</text>
<line x1="339.7" y1="89.3" x2="342.2" y2="89.3" stroke="#444" stroke-width="1" />
<text x="337.4" y="91.8" font-size="7" text-anchor="end" stroke-width="0.15" >1.5</text>
<line x1="339.7" y1="63.3" x2="342.2" y2="63.3" stroke="#444" stroke-width="1" />
<text x="337.4" y="65.8" font-size="7" text-anchor="end" stroke-width="0.15" >2</text>
<line x1="339.7" y1="37.2" x2="342.2" y2="37.2" stroke="#444" stroke-width="1" />
<text x="337.4" y="39.7" font-size="7" text-anchor="end" stroke-width="0.15" >2.5</text>
<line x1="342.2" y1="167.5" x2="342.2" y2="170.0" stroke="#000" stroke-width="1" />
<line x1="377.6" y1="167.5" x2="377.6" y2="170.0" stroke="#000" stroke-width="1" />
<line x1="413.0" y1="167.5" x2="413.0" y2="170.0" stroke="#000" stroke-width="1" />
<line x1="448.4" y1="167.5" x2="448.4" y2="170.0" stroke="#000" stroke-width="1" />
<line x1="483.8" y1="167.5" x2="483.8" y2="170.0" stroke="#000" stroke-width="1" />
<line x1="519.2" y1="167.5" x2="519.2" y2="170.0" stroke="#000" stroke-width="1" />
<rect x="347.4" y="161.7" width="5.6" height="5.8" fill="#fff" stroke="#000" stroke-width="1"/>
<rect x="354.0" y="161.7" width="5.6" height="5.8" fill="#fff" stroke="#000" stroke-width="1"/>
<rect x="360.1" y="63.3" width="6.9" height="104.2" fill="#000" stroke="none" stroke-width="1"/>
<rect x="366.7" y="112.8" width="6.9" height="54.7" fill="#000" stroke="none" stroke-width="1"/>
<text x="358.1" y="178.8" font-size="6.5" text-anchor="middle" stroke-width="0.15" >1/30</text>
<rect x="382.5" y="161.7" width="5.6" height="5.8" fill="#fff" stroke="#000" stroke-width="1"/>
<rect x="389.1" y="163.6" width="5.6" height="3.9" fill="#fff" stroke="#000" stroke-width="1"/>
<rect x="395.2" y="107.6" width="6.9" height="59.9" fill="#000" stroke="none" stroke-width="1"/>
<rect x="401.8" y="103.9" width="6.9" height="63.6" fill="#000" stroke="none" stroke-width="1"/>
<text x="393.2" y="178.8" font-size="6.5" text-anchor="middle" stroke-width="0.15" >1/100</text>
<rect x="417.7" y="165.1" width="5.6" height="2.4" fill="#fff" stroke="#000" stroke-width="1"/>
<rect x="424.3" y="161.7" width="5.6" height="5.8" fill="#fff" stroke="#000" stroke-width="1"/>
<rect x="430.4" y="108.6" width="6.9" height="58.9" fill="#000" stroke="none" stroke-width="1"/>
<rect x="437.0" y="119.0" width="6.9" height="48.5" fill="#000" stroke="none" stroke-width="1"/>
<text x="428.4" y="178.8" font-size="6.5" text-anchor="middle" stroke-width="0.15" >1/300</text>
<rect x="452.8" y="161.7" width="5.6" height="5.8" fill="#fff" stroke="#000" stroke-width="1"/>
<rect x="459.4" y="163.8" width="5.6" height="3.7" fill="#fff" stroke="#000" stroke-width="1"/>
<rect x="465.5" y="144.6" width="6.9" height="22.9" fill="#000" stroke="none" stroke-width="1"/>
<rect x="472.1" y="139.9" width="6.9" height="27.6" fill="#000" stroke="none" stroke-width="1"/>
<text x="463.5" y="178.8" font-size="6.5" text-anchor="middle" stroke-width="0.15" >1/1000</text>
<rect x="488.0" y="161.7" width="5.6" height="5.8" fill="#fff" stroke="#000" stroke-width="1"/>
<rect x="494.6" y="161.7" width="5.6" height="5.8" fill="#fff" stroke="#000" stroke-width="1"/>
<rect x="500.7" y="160.7" width="6.9" height="6.8" fill="#000" stroke="none" stroke-width="1"/>
<rect x="507.3" y="159.7" width="6.9" height="7.8" fill="#000" stroke="none" stroke-width="1"/>
<text x="498.7" y="178.8" font-size="6.5" text-anchor="middle" stroke-width="0.15" >1/3000</text>
<text x="411.0" y="192.0" font-size="6.6" text-anchor="start" stroke-width="0.15" >DC/T cell ratio</text>
<text transform="translate(323.6,88.8) rotate(-90)" font-size="6.9" text-anchor="middle" stroke-width="0.15">% tetramer+/CD8+ cells</text>
<rect x="410.4" y="37.4" width="5.6" height="5.6" fill="#fff" stroke="#000" stroke-width="1"/>
<text x="418.1" y="42.7" font-size="7" text-anchor="start" stroke-width="0.15" >MP IL-3 pDC</text>
<text x="470.1" y="42.7" font-size="7" text-anchor="start" stroke-width="0.15" >CTL tetramer</text>
<rect x="410.4" y="51.4" width="5.6" height="5.6" fill="#fff" stroke="#000" stroke-width="1"/>
<text x="418.1" y="56.7" font-size="7" text-anchor="start" stroke-width="0.15" >MP CD11c+ DC</text>
<text x="470.1" y="56.7" font-size="7" text-anchor="start" stroke-width="0.15" >CTL tetramer</text>
<rect x="409.9" y="64.9" width="6.6" height="6.6" fill="#000" stroke="none" stroke-width="1"/>
<text x="418.1" y="70.7" font-size="7" text-anchor="start" stroke-width="0.15" >MP IL-3 pDC</text>
<text x="470.1" y="70.7" font-size="7" text-anchor="start" stroke-width="0.15" >MP tetramer</text>
<rect x="409.9" y="78.9" width="6.6" height="6.6" fill="#000" stroke="none" stroke-width="1"/>
<text x="418.1" y="84.7" font-size="7" text-anchor="start" stroke-width="0.15" >MP CD11c+ DC</text>
<text x="470.1" y="84.7" font-size="7" text-anchor="start" stroke-width="0.15" >MP tetramer</text>
<text x="315.0" y="228.6" font-size="30.6" text-anchor="start" stroke-width="0.45" >C</text>
<line x1="342.2" y1="236.5" x2="342.2" y2="366.8" stroke="#444" stroke-width="1" />
<line x1="342.2" y1="366.8" x2="518.0" y2="366.8" stroke="#333" stroke-width="1" />
<line x1="339.7" y1="366.8" x2="342.2" y2="366.8" stroke="#444" stroke-width="1" />
<text x="337.4" y="369.3" font-size="7" text-anchor="end" stroke-width="0.15" >0</text>
<line x1="339.7" y1="340.7" x2="342.2" y2="340.7" stroke="#444" stroke-width="1" />
<text x="337.4" y="343.2" font-size="7" text-anchor="end" stroke-width="0.15" >0.5</text>
<line x1="339.7" y1="314.7" x2="342.2" y2="314.7" stroke="#444" stroke-width="1" />
<text x="337.4" y="317.2" font-size="7" text-anchor="end" stroke-width="0.15" >1</text>
<line x1="339.7" y1="288.6" x2="342.2" y2="288.6" stroke="#444" stroke-width="1" />
<text x="337.4" y="291.1" font-size="7" text-anchor="end" stroke-width="0.15" >1.5</text>
<line x1="339.7" y1="262.6" x2="342.2" y2="262.6" stroke="#444" stroke-width="1" />
<text x="337.4" y="265.1" font-size="7" text-anchor="end" stroke-width="0.15" >2</text>
<line x1="339.7" y1="236.5" x2="342.2" y2="236.5" stroke="#444" stroke-width="1" />
<text x="337.4" y="239.0" font-size="7" text-anchor="end" stroke-width="0.15" >2.5</text>
<line x1="342.2" y1="366.8" x2="342.2" y2="369.3" stroke="#000" stroke-width="1" />
<line x1="377.6" y1="366.8" x2="377.6" y2="369.3" stroke="#000" stroke-width="1" />
<line x1="413.0" y1="366.8" x2="413.0" y2="369.3" stroke="#000" stroke-width="1" />
<line x1="448.4" y1="366.8" x2="448.4" y2="369.3" stroke="#000" stroke-width="1" />
<line x1="483.8" y1="366.8" x2="483.8" y2="369.3" stroke="#000" stroke-width="1" />
<line x1="519.2" y1="366.8" x2="519.2" y2="369.3" stroke="#000" stroke-width="1" />
<rect x="347.4" y="360.0" width="5.6" height="6.8" fill="#fff" stroke="#000" stroke-width="1"/>
<rect x="354.0" y="360.0" width="5.6" height="6.8" fill="#fff" stroke="#000" stroke-width="1"/>
<rect x="360.1" y="270.9" width="6.9" height="95.9" fill="#000" stroke="none" stroke-width="1"/>
<rect x="366.7" y="326.7" width="6.9" height="40.1" fill="#000" stroke="none" stroke-width="1"/>
<text x="358.1" y="378.1" font-size="6.5" text-anchor="middle" stroke-width="0.15" >1/30</text>
<rect x="382.5" y="358.4" width="5.6" height="8.4" fill="#fff" stroke="#000" stroke-width="1"/>
<rect x="389.1" y="362.6" width="5.6" height="4.2" fill="#fff" stroke="#000" stroke-width="1"/>
<rect x="395.2" y="282.9" width="6.9" height="83.9" fill="#000" stroke="none" stroke-width="1"/>
<rect x="401.8" y="319.4" width="6.9" height="47.4" fill="#000" stroke="none" stroke-width="1"/>
<text x="393.2" y="378.1" font-size="6.5" text-anchor="middle" stroke-width="0.15" >1/100</text>
<rect x="417.7" y="363.7" width="5.6" height="3.1" fill="#fff" stroke="#000" stroke-width="1"/>
<rect x="424.3" y="359.5" width="5.6" height="7.3" fill="#fff" stroke="#000" stroke-width="1"/>
<rect x="430.4" y="319.4" width="6.9" height="47.4" fill="#000" stroke="none" stroke-width="1"/>
<rect x="437.0" y="313.6" width="6.9" height="53.2" fill="#000" stroke="none" stroke-width="1"/>
<text x="428.4" y="378.1" font-size="6.5" text-anchor="middle" stroke-width="0.15" >1/300</text>
<rect x="452.8" y="361.0" width="5.6" height="5.8" fill="#fff" stroke="#000" stroke-width="1"/>
<rect x="459.4" y="361.0" width="5.6" height="5.8" fill="#fff" stroke="#000" stroke-width="1"/>
<rect x="465.5" y="338.7" width="6.9" height="28.1" fill="#000" stroke="none" stroke-width="1"/>
<rect x="472.1" y="350.1" width="6.9" height="16.7" fill="#000" stroke="none" stroke-width="1"/>
<text x="463.5" y="378.1" font-size="6.5" text-anchor="middle" stroke-width="0.15" >1/1000</text>
<rect x="488.0" y="359.0" width="5.6" height="7.8" fill="#fff" stroke="#000" stroke-width="1"/>
<rect x="494.6" y="359.0" width="5.6" height="7.8" fill="#fff" stroke="#000" stroke-width="1"/>
<rect x="500.7" y="356.9" width="6.9" height="9.9" fill="#000" stroke="none" stroke-width="1"/>
<rect x="507.3" y="355.9" width="6.9" height="10.9" fill="#000" stroke="none" stroke-width="1"/>
<text x="498.7" y="378.1" font-size="6.5" text-anchor="middle" stroke-width="0.15" >1/3000</text>
<text x="411.0" y="391.3" font-size="6.6" text-anchor="start" stroke-width="0.15" >DC/T cell ratio</text>
<text transform="translate(323.6,288.1) rotate(-90)" font-size="6.9" text-anchor="middle" stroke-width="0.15">% tetramer+/CD8+ cells</text>
<rect x="409.7" y="236.6" width="5.6" height="5.6" fill="#fff" stroke="#000" stroke-width="1"/>
<text x="417.1" y="241.9" font-size="6.8" text-anchor="start" stroke-width="0.15" >Flu pDC</text>
<text x="468.5" y="241.9" font-size="6.8" text-anchor="start" stroke-width="0.15" >CTL tetramer</text>
<rect x="409.7" y="250.6" width="5.6" height="5.6" fill="#fff" stroke="#000" stroke-width="1"/>
<text x="417.1" y="255.9" font-size="6.8" text-anchor="start" stroke-width="0.15" >Flu CD11c+ DC</text>
<text x="468.5" y="255.9" font-size="6.8" text-anchor="start" stroke-width="0.15" >CTL tetramer</text>
<rect x="409.2" y="264.1" width="6.6" height="6.6" fill="#000" stroke="none" stroke-width="1"/>
<text x="417.1" y="269.9" font-size="6.8" text-anchor="start" stroke-width="0.15" >Flu pDC</text>
<text x="468.5" y="269.9" font-size="6.8" text-anchor="start" stroke-width="0.15" >MP tetramer</text>
<rect x="409.2" y="278.1" width="6.6" height="6.6" fill="#000" stroke="none" stroke-width="1"/>
<text x="417.1" y="283.9" font-size="6.8" text-anchor="start" stroke-width="0.15" >Flu CD11c+ DC</text>
<text x="468.5" y="283.9" font-size="6.8" text-anchor="start" stroke-width="0.15" >MP tetramer</text>
<text x="315.2" y="426.9" font-size="29.6" text-anchor="start" stroke-width="0.45" >D</text>
<line x1="348.7" y1="437.0" x2="348.7" y2="576.3" stroke="#444" stroke-width="1" />
<line x1="348.7" y1="576.3" x2="518.0" y2="576.3" stroke="#333" stroke-width="1" />
<line x1="346.2" y1="576.3" x2="348.7" y2="576.3" stroke="#000" stroke-width="1" />
<text x="342.6" y="578.8" font-size="7" text-anchor="end" stroke-width="0.15" >0</text>
<line x1="346.2" y1="558.9" x2="348.7" y2="558.9" stroke="#000" stroke-width="1" />
<line x1="346.2" y1="541.5" x2="348.7" y2="541.5" stroke="#000" stroke-width="1" />
<text x="342.6" y="544.0" font-size="7" text-anchor="end" stroke-width="0.15" >200</text>
<line x1="346.2" y1="524.1" x2="348.7" y2="524.1" stroke="#000" stroke-width="1" />
<line x1="346.2" y1="506.6" x2="348.7" y2="506.6" stroke="#000" stroke-width="1" />
<text x="342.6" y="509.1" font-size="7" text-anchor="end" stroke-width="0.15" >400</text>
<line x1="346.2" y1="489.2" x2="348.7" y2="489.2" stroke="#000" stroke-width="1" />
<line x1="346.2" y1="471.8" x2="348.7" y2="471.8" stroke="#000" stroke-width="1" />
<text x="342.6" y="474.3" font-size="7" text-anchor="end" stroke-width="0.15" >600</text>
<line x1="346.2" y1="454.4" x2="348.7" y2="454.4" stroke="#000" stroke-width="1" />
<line x1="346.2" y1="437.0" x2="348.7" y2="437.0" stroke="#000" stroke-width="1" />
<text x="342.6" y="439.5" font-size="7" text-anchor="end" stroke-width="0.15" >800</text>
<line x1="372.9" y1="576.3" x2="372.9" y2="578.8" stroke="#000" stroke-width="1" />
<line x1="397.1" y1="576.3" x2="397.1" y2="578.8" stroke="#000" stroke-width="1" />
<line x1="421.3" y1="576.3" x2="421.3" y2="578.8" stroke="#000" stroke-width="1" />
<line x1="445.5" y1="576.3" x2="445.5" y2="578.8" stroke="#000" stroke-width="1" />
<line x1="469.7" y1="576.3" x2="469.7" y2="578.8" stroke="#000" stroke-width="1" />
<line x1="493.9" y1="576.3" x2="493.9" y2="578.8" stroke="#000" stroke-width="1" />
<line x1="518.1" y1="576.3" x2="518.1" y2="578.8" stroke="#000" stroke-width="1" />
<rect x="360.5" y="574.7" width="8.3" height="1.6" fill="#000" stroke="none" stroke-width="1"/>
<rect x="402.3" y="574.2" width="6.5" height="2.1" fill="#fff" stroke="#000" stroke-width="1"/>
<rect x="409.2" y="518.0" width="7.8" height="58.3" fill="#000" stroke="none" stroke-width="1"/>
<rect x="425.9" y="568.1" width="6.5" height="8.2" fill="#fff" stroke="#000" stroke-width="1"/>
<rect x="432.8" y="500.9" width="7.8" height="75.4" fill="#000" stroke="none" stroke-width="1"/>
<rect x="473.9" y="569.8" width="6.5" height="6.5" fill="#fff" stroke="#000" stroke-width="1"/>
<rect x="480.8" y="454.4" width="7.8" height="121.9" fill="#000" stroke="none" stroke-width="1"/>
<rect x="498.6" y="542.5" width="6.5" height="33.8" fill="#fff" stroke="#000" stroke-width="1"/>
<rect x="505.5" y="474.6" width="7.8" height="101.7" fill="#000" stroke="none" stroke-width="1"/>
<text x="364.6" y="440.5" font-size="7" text-anchor="start" stroke-width="0.15" >Restimulation with</text>
<rect x="361.0" y="450.4" width="4.4" height="7.6" fill="#fff" stroke="#000" stroke-width="1"/>
<text x="368.0" y="457.3" font-size="7" text-anchor="start" stroke-width="0.15" >T2</text>
<rect x="360.5" y="467.7" width="5.4" height="9.2" fill="#000" stroke="none" stroke-width="1"/>
<text x="368.0" y="475.0" font-size="7" text-anchor="start" stroke-width="0.15" >T2+MP</text>
<text transform="translate(327.1,492.6) rotate(-90)" font-size="7" text-anchor="middle" stroke-width="0.15">IFN&#947; SFC / 50 000 T cells</text>
<text x="317.3" y="588.9" font-size="7.3" text-anchor="start" stroke-width="0.15" >Stimulation</text>
<text x="317.3" y="598.6" font-size="7.3" text-anchor="start" stroke-width="0.15" >with</text>
<text x="365.8" y="589.6" font-size="7" text-anchor="middle" stroke-width="0.15" >(-)</text>
<text x="387.0" y="589.6" font-size="7" text-anchor="middle" stroke-width="0.15" >IL-3</text>
<text x="411.1" y="589.6" font-size="7" text-anchor="middle" stroke-width="0.15" >MP/IL-3</text>
<text x="434.9" y="589.6" font-size="7" text-anchor="middle" stroke-width="0.15" >Flu</text>
<text x="457.0" y="589.6" font-size="7" text-anchor="middle" stroke-width="0.15" >(-)</text>
<text x="482.9" y="589.6" font-size="7" text-anchor="middle" stroke-width="0.15" >MP</text>
<text x="506.1" y="589.6" font-size="7" text-anchor="middle" stroke-width="0.15" >Flu</text>
<line x1="380.3" y1="596.5" x2="441.1" y2="596.5" stroke="#000" stroke-width="1" />
<line x1="452.6" y1="596.5" x2="513.5" y2="596.5" stroke="#000" stroke-width="1" />
<text x="410.8" y="606.6" font-size="7.3" text-anchor="middle" stroke-width="0.15" >pDC</text>
<text x="486.8" y="606.6" font-size="7.3" text-anchor="middle" stroke-width="0.15" >CD11c+ DC</text>
<text x="-1.6" y="658.4" font-size="30.6" text-anchor="start" stroke-width="0.45" >E</text>
<line x1="34.0" y1="678.0" x2="34.0" y2="831.5" stroke="#444" stroke-width="1" />
<line x1="34.0" y1="831.5" x2="199.6" y2="831.5" stroke="#444" stroke-width="1" />
<line x1="31.5" y1="831.5" x2="34.0" y2="831.5" stroke="#000" stroke-width="1" />
<text x="29.0" y="834.3" font-size="7.8" text-anchor="end" stroke-width="0.15" >0</text>
<line x1="31.5" y1="793.1" x2="34.0" y2="793.1" stroke="#000" stroke-width="1" />
<text x="29.0" y="795.9" font-size="7.8" text-anchor="end" stroke-width="0.15" >10</text>
<line x1="31.5" y1="754.8" x2="34.0" y2="754.8" stroke="#000" stroke-width="1" />
<text x="29.0" y="757.5" font-size="7.8" text-anchor="end" stroke-width="0.15" >20</text>
<line x1="31.5" y1="716.4" x2="34.0" y2="716.4" stroke="#000" stroke-width="1" />
<text x="29.0" y="719.2" font-size="7.8" text-anchor="end" stroke-width="0.15" >30</text>
<line x1="31.5" y1="678.0" x2="34.0" y2="678.0" stroke="#000" stroke-width="1" />
<text x="29.0" y="680.8" font-size="7.8" text-anchor="end" stroke-width="0.15" >40</text>
<text x="62.3" y="847.2" font-size="8" text-anchor="middle" stroke-width="0.15" >30/1</text>
<text x="117.1" y="847.2" font-size="8" text-anchor="middle" stroke-width="0.15" >60/1</text>
<text x="172.5" y="847.2" font-size="8" text-anchor="middle" stroke-width="0.15" >120/1</text>
<text x="136.0" y="860.4" font-size="7.8" text-anchor="middle" stroke-width="0.15" >T cells/T2 cells ratio</text>
<text transform="translate(5.8,754.5) rotate(-90)" font-size="7.8" text-anchor="middle" stroke-width="0.15">% Lysis</text>
<polyline points="61.8,823.4 116.6,810.0 172.0,798.5" fill="none" stroke="#000" stroke-width="1.1"/>
<polyline points="61.8,746.3 116.6,739.8 172.0,727.9" fill="none" stroke="#000" stroke-width="1.1"/>
<polyline points="61.8,805.0 116.6,797.0 172.0,787.8" fill="none" stroke="#000" stroke-width="1.1"/>
<polyline points="61.8,777.8 116.6,750.1 172.0,727.9" fill="none" stroke="#000" stroke-width="1.1"/>
<polyline points="61.8,808.5 116.6,805.8 172.0,775.5" fill="none" stroke="#000" stroke-width="1.1"/>
<polyline points="61.8,724.4 116.6,717.1 172.0,685.7" fill="none" stroke="#000" stroke-width="1.1"/>
<polyline points="61.8,782.8 116.6,757.4 172.0,757.4" fill="none" stroke="#000" stroke-width="1.1"/>
<polyline points="61.8,744.4 116.6,709.1 172.0,712.2" fill="none" stroke="#000" stroke-width="1.1"/>
<polyline points="61.8,828.8 116.6,831.1 172.0,830.3" fill="none" stroke="#000" stroke-width="1.1"/>
<polyline points="61.8,827.7 116.6,831.1 172.0,829.6" fill="none" stroke="#000" stroke-width="1.1"/>
<rect x="59.4" y="821.0" width="4.8" height="4.8" fill="#fff" stroke="#000" stroke-width="1"/>
<rect x="114.2" y="807.6" width="4.8" height="4.8" fill="#fff" stroke="#000" stroke-width="1"/>
<rect x="169.6" y="796.1" width="4.8" height="4.8" fill="#fff" stroke="#000" stroke-width="1"/>
<rect x="59.4" y="743.9" width="4.8" height="4.8" fill="#000" stroke="#000" stroke-width="1"/>
<rect x="114.2" y="737.4" width="4.8" height="4.8" fill="#000" stroke="#000" stroke-width="1"/>
<rect x="169.6" y="725.5" width="4.8" height="4.8" fill="#000" stroke="#000" stroke-width="1"/>
<path d="M61.8 801.6L65.2 805.0L61.8 808.4L58.4 805.0Z" fill="#fff" stroke="#000" stroke-width="1"/>
<path d="M116.6 793.6L120.0 797.0L116.6 800.4L113.2 797.0Z" fill="#fff" stroke="#000" stroke-width="1"/>
<path d="M172.0 784.4L175.4 787.8L172.0 791.2L168.6 787.8Z" fill="#fff" stroke="#000" stroke-width="1"/>
<path d="M61.8 774.4L65.2 777.8L61.8 781.2L58.4 777.8Z" fill="#000" stroke="#000" stroke-width="1"/>
<path d="M116.6 746.7L120.0 750.1L116.6 753.5L113.2 750.1Z" fill="#000" stroke="#000" stroke-width="1"/>
<path d="M172.0 724.5L175.4 727.9L172.0 731.3L168.6 727.9Z" fill="#000" stroke="#000" stroke-width="1"/>
<path d="M61.8 805.1L65.2 811.1L58.4 811.1Z" fill="#fff" stroke="#000" stroke-width="1"/>
<path d="M116.6 802.4L120.0 808.4L113.2 808.4Z" fill="#fff" stroke="#000" stroke-width="1"/>
<path d="M172.0 772.1L175.4 778.1L168.6 778.1Z" fill="#fff" stroke="#000" stroke-width="1"/>
<path d="M61.8 721.0L65.2 727.0L58.4 727.0Z" fill="#000" stroke="#000" stroke-width="1"/>
<path d="M116.6 713.7L120.0 719.7L113.2 719.7Z" fill="#000" stroke="#000" stroke-width="1"/>
<path d="M172.0 682.3L175.4 688.3L168.6 688.3Z" fill="#000" stroke="#000" stroke-width="1"/>
<circle cx="61.8" cy="782.8" r="2.9" fill="#fff" stroke="#000" stroke-width="1"/>
<circle cx="116.6" cy="757.4" r="2.9" fill="#fff" stroke="#000" stroke-width="1"/>
<circle cx="172.0" cy="757.4" r="2.9" fill="#fff" stroke="#000" stroke-width="1"/>
<circle cx="61.8" cy="744.4" r="2.9" fill="#000" stroke="#000" stroke-width="1"/>
<circle cx="116.6" cy="709.1" r="2.9" fill="#000" stroke="#000" stroke-width="1"/>
<circle cx="172.0" cy="712.2" r="2.9" fill="#000" stroke="#000" stroke-width="1"/>
<path d="M58.9 825.9L64.7 831.7M64.7 825.9L58.9 831.7" stroke="#000" stroke-width="1.3"/>
<path d="M113.7 828.2L119.5 834.0M119.5 828.2L113.7 834.0" stroke="#000" stroke-width="1.3"/>
<path d="M169.1 827.4L174.9 833.2M174.9 827.4L169.1 833.2" stroke="#000" stroke-width="1.3"/>
<path d="M58.9 824.8L64.7 830.6M64.7 824.8L58.9 830.6M61.8 824.3V831.1" stroke="#000" stroke-width="1.3"/>
<path d="M113.7 828.2L119.5 834.0M119.5 828.2L113.7 834.0M116.6 827.7V834.5" stroke="#000" stroke-width="1.3"/>
<path d="M169.1 826.7L174.9 832.5M174.9 826.7L169.1 832.5M172.0 826.2V833.0" stroke="#000" stroke-width="1.3"/>
<text x="229.8" y="697.6" font-size="7.6" text-anchor="end" stroke-width="0.15" >MP IL-3 pDC</text>
<line x1="236.0" y1="685.4" x2="236.0" y2="708.3" stroke="#000" stroke-width="1.2" />
<text x="239.3" y="693.4" font-size="7.8" text-anchor="start" stroke-width="0.15" >T2-</text>
<line x1="268.3" y1="690.6" x2="282.5" y2="690.6" stroke="#000" stroke-width="1.1" />
<rect x="273.2" y="688.3" width="4.6" height="4.6" fill="#fff" stroke="#000" stroke-width="1"/>
<text x="239.3" y="704.2" font-size="7.8" text-anchor="start" stroke-width="0.15" >T2+MP</text>
<line x1="268.3" y1="701.4" x2="282.5" y2="701.4" stroke="#000" stroke-width="1.1" />
<rect x="273.2" y="699.1" width="4.6" height="4.6" fill="#000" stroke="#000" stroke-width="1"/>
<text x="229.8" y="726.3" font-size="7.6" text-anchor="end" stroke-width="0.15" >Flu pDC</text>
<line x1="236.0" y1="714.1" x2="236.0" y2="737.0" stroke="#000" stroke-width="1.2" />
<text x="239.3" y="722.1" font-size="7.8" text-anchor="start" stroke-width="0.15" >T2-</text>
<line x1="268.3" y1="719.3" x2="282.5" y2="719.3" stroke="#000" stroke-width="1.1" />
<path d="M275.5 716.0L278.8 719.3L275.5 722.6L272.2 719.3Z" fill="#fff" stroke="#000" stroke-width="1"/>
<text x="239.3" y="732.9" font-size="7.8" text-anchor="start" stroke-width="0.15" >T2+MP</text>
<line x1="268.3" y1="730.1" x2="282.5" y2="730.1" stroke="#000" stroke-width="1.1" />
<path d="M275.5 726.8L278.8 730.1L275.5 733.4L272.2 730.1Z" fill="#000" stroke="#000" stroke-width="1"/>
<text x="229.8" y="755.5" font-size="7.6" text-anchor="end" stroke-width="0.15" >MP CD11c+</text>
<line x1="236.0" y1="743.3" x2="236.0" y2="766.2" stroke="#000" stroke-width="1.2" />
<text x="239.3" y="751.3" font-size="7.8" text-anchor="start" stroke-width="0.15" >T2-</text>
<line x1="268.3" y1="748.5" x2="282.5" y2="748.5" stroke="#000" stroke-width="1.1" />
<path d="M275.5 745.2L278.8 751.0L272.2 751.0Z" fill="#fff" stroke="#000" stroke-width="1"/>
<text x="239.3" y="762.1" font-size="7.8" text-anchor="start" stroke-width="0.15" >T2+MP</text>
<line x1="268.3" y1="759.3" x2="282.5" y2="759.3" stroke="#000" stroke-width="1.1" />
<path d="M275.5 756.0L278.8 761.8L272.2 761.8Z" fill="#000" stroke="#000" stroke-width="1"/>
<text x="229.8" y="784.6" font-size="7.6" text-anchor="end" stroke-width="0.15" >Flu CD11c+</text>
<line x1="236.0" y1="772.4" x2="236.0" y2="795.3" stroke="#000" stroke-width="1.2" />
<text x="239.3" y="780.4" font-size="7.8" text-anchor="start" stroke-width="0.15" >T2-</text>
<line x1="268.3" y1="777.6" x2="282.5" y2="777.6" stroke="#000" stroke-width="1.1" />
<circle cx="275.5" cy="777.6" r="2.8" fill="#fff" stroke="#000" stroke-width="1"/>
<text x="239.3" y="791.2" font-size="7.8" text-anchor="start" stroke-width="0.15" >T2+MP</text>
<line x1="268.3" y1="788.4" x2="282.5" y2="788.4" stroke="#000" stroke-width="1.1" />
<circle cx="275.5" cy="788.4" r="2.8" fill="#000" stroke="#000" stroke-width="1"/>
<text x="179.4" y="807.0" font-size="7.6" text-anchor="start" stroke-width="0.15" >Unstimulated</text>
<text x="179.4" y="816.3" font-size="7.6" text-anchor="start" stroke-width="0.15" >T cells</text>
<line x1="236.0" y1="798.8" x2="236.0" y2="823.0" stroke="#000" stroke-width="1.2" />
<text x="239.3" y="807.2" font-size="7.8" text-anchor="start" stroke-width="0.15" >T2-</text>
<line x1="268.3" y1="804.4" x2="282.5" y2="804.4" stroke="#000" stroke-width="1.1" />
<path d="M272.7 801.6L278.3 807.2M278.3 801.6L272.7 807.2" stroke="#000" stroke-width="1.3"/>
<text x="239.3" y="818.8" font-size="7.8" text-anchor="start" stroke-width="0.15" >T2+MP</text>
<line x1="268.3" y1="816.0" x2="282.5" y2="816.0" stroke="#000" stroke-width="1.1" />
<path d="M272.7 813.2L278.3 818.8M278.3 813.2L272.7 818.8M275.5 812.7V819.3" stroke="#000" stroke-width="1.3"/>
</svg></body></html>
